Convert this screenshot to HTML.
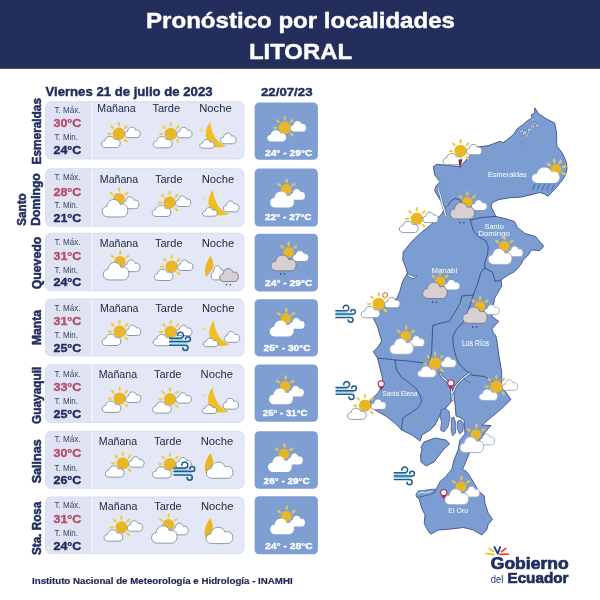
<!DOCTYPE html>
<html lang="es"><head><meta charset="utf-8"><title>Pronóstico por localidades - LITORAL</title>
<style>html,body{margin:0;padding:0;background:#fff}svg{display:block}text{font-family:"Liberation Sans",sans-serif}</style></head>
<body>
<svg width="600" height="600" viewBox="0 0 600 600">
<rect x="0" y="0" width="600" height="600" fill="#ffffff"/>
<rect x="0" y="0" width="600" height="68.8" fill="#232e5d"/>
<text x="146.0" y="28.2" font-size="21.23" font-weight="bold" fill="#ffffff" stroke="#ffffff" stroke-width="0.42" stroke-linejoin="round" textLength="309.0" lengthAdjust="spacingAndGlyphs" >Pronóstico por localidades</text>
<text x="249.0" y="59.0" font-size="22.35" font-weight="bold" fill="#ffffff" stroke="#ffffff" stroke-width="0.45" stroke-linejoin="round" textLength="103.0" lengthAdjust="spacingAndGlyphs" >LITORAL</text>
<text x="45.5" y="95.8" font-size="12.01" font-weight="bold" fill="#222e5e" stroke="#222e5e" stroke-width="0.42" stroke-linejoin="round" textLength="167.0" lengthAdjust="spacingAndGlyphs" >Viernes 21 de julio de 2023</text>
<text x="261.0" y="95.8" font-size="11.73" font-weight="bold" fill="#222e5e" stroke="#222e5e" stroke-width="0.41" stroke-linejoin="round" textLength="51.5" lengthAdjust="spacingAndGlyphs" >22/07/23</text>
<rect x="45.5" y="101.7" width="198.5" height="57.3" rx="5.5" fill="#e4e8f6" stroke="#d3d7e5" stroke-width="0.8"/>
<path d="M91.3,102.10000000000001 H51 a5.5,5.5 0 0 0 -5.1,5.1 V153.5 a5.5,5.5 0 0 0 5.1,5.1 H91.3Z" fill="#dfe3f3"/>
<rect x="91.3" y="102.10000000000001" width="1.1" height="56.5" fill="#f6f7fc"/>
<rect x="254.6" y="102.6" width="63.3" height="57.2" rx="4.5" fill="#7f9fd3"/>
<text transform="translate(40.5,164.4) rotate(-90)" x="0" y="0" font-size="12.57" font-weight="bold" fill="#222e5e" stroke="#222e5e" stroke-width="0.50" stroke-linejoin="round" textLength="66.4" lengthAdjust="spacingAndGlyphs">Esmeraldas</text>
<text x="54.5" y="113.0" font-size="8.38" font-weight="normal" fill="#3b4565" textLength="26.0" lengthAdjust="spacingAndGlyphs" >T. Máx.</text>
<text x="53.5" y="126.6" font-size="11.73" font-weight="bold" fill="#b4506c" stroke="#b4506c" stroke-width="0.41" stroke-linejoin="round" textLength="27.8" lengthAdjust="spacingAndGlyphs" >30°C</text>
<text x="54.5" y="140.3" font-size="8.38" font-weight="normal" fill="#3b4565" textLength="23.5" lengthAdjust="spacingAndGlyphs" >T. Min.</text>
<text x="53.5" y="154.0" font-size="11.73" font-weight="bold" fill="#232c5e" stroke="#232c5e" stroke-width="0.41" stroke-linejoin="round" textLength="27.8" lengthAdjust="spacingAndGlyphs" >24°C</text>
<text x="97.3" y="112.0" font-size="10.20" font-weight="normal" fill="#242a47" textLength="38.4" lengthAdjust="spacingAndGlyphs" >Mañana</text>
<text x="152.5" y="112.0" font-size="10.20" font-weight="normal" fill="#242a47" textLength="27.5" lengthAdjust="spacingAndGlyphs" >Tarde</text>
<text x="199.2" y="112.0" font-size="10.20" font-weight="normal" fill="#242a47" textLength="32.5" lengthAdjust="spacingAndGlyphs" >Noche</text>
<g stroke="#f1cb45" stroke-width="2.2" stroke-linecap="round"><line x1="118.90" y1="125.30" x2="118.90" y2="123.10"/><line x1="124.91" y1="127.79" x2="126.47" y2="126.23"/><line x1="127.40" y1="133.80" x2="129.60" y2="133.80"/><line x1="124.91" y1="139.81" x2="126.47" y2="141.37"/><line x1="118.90" y1="142.30" x2="118.90" y2="144.50"/><line x1="112.89" y1="139.81" x2="111.33" y2="141.37"/><line x1="110.40" y1="133.80" x2="108.20" y2="133.80"/><line x1="112.89" y1="127.79" x2="111.33" y2="126.23"/></g><circle cx="118.90" cy="133.80" r="6.2" fill="#e9b726"/><path transform="translate(124.80,127.10) scale(0.770,0.875)" d="M4.5,12 C1.6,12 0,10.2 0,8.2 C0,6.2 1.6,4.7 3.6,4.9 C4,2.1 6.2,0 9,0 C11.5,0 13.5,1.5 14.2,3.6 C14.8,3.3 15.4,3.2 16,3.2 C18.3,3.2 20,5 20,7.5 C20,10.1 18.2,12 15.8,12 Z" fill="#fff" stroke="#7d8fa6" stroke-width="0.9" vector-effect="non-scaling-stroke"/><path transform="translate(101.40,136.30) scale(0.940,0.942)" d="M4.5,12 C1.6,12 0,10.2 0,8.2 C0,6.2 1.6,4.7 3.6,4.9 C4,2.1 6.2,0 9,0 C11.5,0 13.5,1.5 14.2,3.6 C14.8,3.3 15.4,3.2 16,3.2 C18.3,3.2 20,5 20,7.5 C20,10.1 18.2,12 15.8,12 Z" fill="#fff" stroke="#7d8fa6" stroke-width="0.9" vector-effect="non-scaling-stroke"/>
<g stroke="#f1cb45" stroke-width="2.2" stroke-linecap="round"><line x1="170.80" y1="125.50" x2="170.80" y2="123.30"/><line x1="176.81" y1="127.99" x2="178.37" y2="126.43"/><line x1="179.30" y1="134.00" x2="181.50" y2="134.00"/><line x1="176.81" y1="140.01" x2="178.37" y2="141.57"/><line x1="170.80" y1="142.50" x2="170.80" y2="144.70"/><line x1="164.79" y1="140.01" x2="163.23" y2="141.57"/><line x1="162.30" y1="134.00" x2="160.10" y2="134.00"/><line x1="164.79" y1="127.99" x2="163.23" y2="126.43"/></g><circle cx="170.80" cy="134.00" r="6.2" fill="#e9b726"/><path transform="translate(176.70,127.30) scale(0.770,0.875)" d="M4.5,12 C1.6,12 0,10.2 0,8.2 C0,6.2 1.6,4.7 3.6,4.9 C4,2.1 6.2,0 9,0 C11.5,0 13.5,1.5 14.2,3.6 C14.8,3.3 15.4,3.2 16,3.2 C18.3,3.2 20,5 20,7.5 C20,10.1 18.2,12 15.8,12 Z" fill="#fff" stroke="#7d8fa6" stroke-width="0.9" vector-effect="non-scaling-stroke"/><path transform="translate(153.30,136.50) scale(0.940,0.942)" d="M4.5,12 C1.6,12 0,10.2 0,8.2 C0,6.2 1.6,4.7 3.6,4.9 C4,2.1 6.2,0 9,0 C11.5,0 13.5,1.5 14.2,3.6 C14.8,3.3 15.4,3.2 16,3.2 C18.3,3.2 20,5 20,7.5 C20,10.1 18.2,12 15.8,12 Z" fill="#fff" stroke="#7d8fa6" stroke-width="0.9" vector-effect="non-scaling-stroke"/>
<path transform="translate(199.80,120.00)" d="M10.4,2 C2,12 6,27 17,27.5 C21,27.6 24.5,27 26.7,25.8 C18,24 11.5,14 10.4,2Z" fill="#f0bf25"/><circle cx="201.10" cy="130.00" r="1.5" fill="#e3e283"/><path transform="translate(220.60,133.00) scale(0.775,0.900)" d="M4.5,12 C1.6,12 0,10.2 0,8.2 C0,6.2 1.6,4.7 3.6,4.9 C4,2.1 6.2,0 9,0 C11.5,0 13.5,1.5 14.2,3.6 C14.8,3.3 15.4,3.2 16,3.2 C18.3,3.2 20,5 20,7.5 C20,10.1 18.2,12 15.8,12 Z" fill="#fff" stroke="#7d8fa6" stroke-width="0.9" vector-effect="non-scaling-stroke"/><path transform="translate(199.80,139.60) scale(0.730,0.717)" d="M4.5,12 C1.6,12 0,10.2 0,8.2 C0,6.2 1.6,4.7 3.6,4.9 C4,2.1 6.2,0 9,0 C11.5,0 13.5,1.5 14.2,3.6 C14.8,3.3 15.4,3.2 16,3.2 C18.3,3.2 20,5 20,7.5 C20,10.1 18.2,12 15.8,12 Z" fill="#fff" stroke="#7d8fa6" stroke-width="0.9" vector-effect="non-scaling-stroke"/>
<g stroke="#dcc35a" stroke-width="2.2" stroke-linecap="round"><line x1="284.80" y1="119.30" x2="284.80" y2="117.10"/><line x1="290.81" y1="121.79" x2="292.37" y2="120.23"/><line x1="293.30" y1="127.80" x2="295.50" y2="127.80"/><line x1="290.81" y1="133.81" x2="292.37" y2="135.37"/><line x1="284.80" y1="136.30" x2="284.80" y2="138.50"/><line x1="278.79" y1="133.81" x2="277.23" y2="135.37"/><line x1="276.30" y1="127.80" x2="274.10" y2="127.80"/><line x1="278.79" y1="121.79" x2="277.23" y2="120.23"/></g><circle cx="284.80" cy="127.80" r="6.2" fill="#e9b726"/><path transform="translate(290.70,121.10) scale(0.770,0.875)" d="M4.5,12 C1.6,12 0,10.2 0,8.2 C0,6.2 1.6,4.7 3.6,4.9 C4,2.1 6.2,0 9,0 C11.5,0 13.5,1.5 14.2,3.6 C14.8,3.3 15.4,3.2 16,3.2 C18.3,3.2 20,5 20,7.5 C20,10.1 18.2,12 15.8,12 Z" fill="#fff" /><path transform="translate(267.30,130.30) scale(0.940,0.942)" d="M4.5,12 C1.6,12 0,10.2 0,8.2 C0,6.2 1.6,4.7 3.6,4.9 C4,2.1 6.2,0 9,0 C11.5,0 13.5,1.5 14.2,3.6 C14.8,3.3 15.4,3.2 16,3.2 C18.3,3.2 20,5 20,7.5 C20,10.1 18.2,12 15.8,12 Z" fill="#fff" />
<text x="265.0" y="156.3" font-size="9.50" font-weight="bold" fill="#ffffff" stroke="#ffffff" stroke-width="0.33" stroke-linejoin="round" textLength="47.4" lengthAdjust="spacingAndGlyphs" >24° - 29°C</text>
<rect x="45.5" y="168.7" width="198.5" height="57.6" rx="5.5" fill="#e4e8f6" stroke="#d3d7e5" stroke-width="0.8"/>
<path d="M91.3,169.1 H51 a5.5,5.5 0 0 0 -5.1,5.1 V220.79999999999998 a5.5,5.5 0 0 0 5.1,5.1 H91.3Z" fill="#dfe3f3"/>
<rect x="91.3" y="169.1" width="1.1" height="56.800000000000004" fill="#f6f7fc"/>
<rect x="254.6" y="168.6" width="63.3" height="58" rx="4.5" fill="#7f9fd3"/>
<text transform="translate(26.0,225.7) rotate(-90)" x="0" y="0" font-size="12.57" font-weight="bold" fill="#222e5e" stroke="#222e5e" stroke-width="0.50" stroke-linejoin="round" textLength="32.4" lengthAdjust="spacingAndGlyphs">Santo</text>
<text transform="translate(40.3,225.7) rotate(-90)" x="0" y="0" font-size="12.57" font-weight="bold" fill="#222e5e" stroke="#222e5e" stroke-width="0.50" stroke-linejoin="round" textLength="52.4" lengthAdjust="spacingAndGlyphs">Domingo</text>
<text x="54.5" y="179.8" font-size="8.38" font-weight="normal" fill="#3b4565" textLength="26.0" lengthAdjust="spacingAndGlyphs" >T. Máx.</text>
<text x="53.5" y="196.0" font-size="11.73" font-weight="bold" fill="#b4506c" stroke="#b4506c" stroke-width="0.41" stroke-linejoin="round" textLength="27.8" lengthAdjust="spacingAndGlyphs" >28°C</text>
<text x="54.5" y="208.3" font-size="8.38" font-weight="normal" fill="#3b4565" textLength="23.5" lengthAdjust="spacingAndGlyphs" >T. Min.</text>
<text x="53.5" y="222.0" font-size="11.73" font-weight="bold" fill="#232c5e" stroke="#232c5e" stroke-width="0.41" stroke-linejoin="round" textLength="27.8" lengthAdjust="spacingAndGlyphs" >21°C</text>
<text x="99.8" y="183.0" font-size="10.20" font-weight="normal" fill="#242a47" textLength="38.4" lengthAdjust="spacingAndGlyphs" >Mañana</text>
<text x="155.0" y="183.0" font-size="10.20" font-weight="normal" fill="#242a47" textLength="27.5" lengthAdjust="spacingAndGlyphs" >Tarde</text>
<text x="201.7" y="183.0" font-size="10.20" font-weight="normal" fill="#242a47" textLength="32.5" lengthAdjust="spacingAndGlyphs" >Noche</text>
<g stroke="#f1cb45" stroke-width="2.1" stroke-linecap="round"><line x1="112.53" y1="194.17" x2="110.56" y2="192.79"/><line x1="119.28" y1="190.80" x2="119.36" y2="188.41"/><line x1="125.47" y1="194.17" x2="127.44" y2="192.79"/></g><circle cx="119.00" cy="198.70" r="5.8" fill="#e9b726"/><path transform="translate(122.75,196.95) scale(0.810,0.975)" d="M4.5,12 C1.6,12 0,10.2 0,8.2 C0,6.2 1.6,4.7 3.6,4.9 C4,2.1 6.2,0 9,0 C11.5,0 13.5,1.5 14.2,3.6 C14.8,3.3 15.4,3.2 16,3.2 C18.3,3.2 20,5 20,7.5 C20,10.1 18.2,12 15.8,12 Z" fill="#fff" stroke="#7d8fa6" stroke-width="0.9" vector-effect="non-scaling-stroke"/><path transform="translate(102.25,199.45) scale(1.275,1.458)" d="M4.5,12 C1.6,12 0,10.2 0,8.2 C0,6.2 1.6,4.7 3.6,4.9 C4,2.1 6.2,0 9,0 C11.5,0 13.5,1.5 14.2,3.6 C14.8,3.3 15.4,3.2 16,3.2 C18.3,3.2 20,5 20,7.5 C20,10.1 18.2,12 15.8,12 Z" fill="#fff" stroke="#7d8fa6" stroke-width="0.9" vector-effect="non-scaling-stroke"/>
<g stroke="#f1cb45" stroke-width="2.2" stroke-linecap="round"><line x1="169.60" y1="194.20" x2="169.60" y2="192.00"/><line x1="175.61" y1="196.69" x2="177.17" y2="195.13"/><line x1="178.10" y1="202.70" x2="180.30" y2="202.70"/><line x1="175.61" y1="208.71" x2="177.17" y2="210.27"/><line x1="169.60" y1="211.20" x2="169.60" y2="213.40"/><line x1="163.59" y1="208.71" x2="162.03" y2="210.27"/><line x1="161.10" y1="202.70" x2="158.90" y2="202.70"/><line x1="163.59" y1="196.69" x2="162.03" y2="195.13"/></g><circle cx="169.60" cy="202.70" r="6.2" fill="#e9b726"/><path transform="translate(175.50,196.00) scale(0.770,0.875)" d="M4.5,12 C1.6,12 0,10.2 0,8.2 C0,6.2 1.6,4.7 3.6,4.9 C4,2.1 6.2,0 9,0 C11.5,0 13.5,1.5 14.2,3.6 C14.8,3.3 15.4,3.2 16,3.2 C18.3,3.2 20,5 20,7.5 C20,10.1 18.2,12 15.8,12 Z" fill="#fff" stroke="#7d8fa6" stroke-width="0.9" vector-effect="non-scaling-stroke"/><path transform="translate(152.10,205.20) scale(0.940,0.942)" d="M4.5,12 C1.6,12 0,10.2 0,8.2 C0,6.2 1.6,4.7 3.6,4.9 C4,2.1 6.2,0 9,0 C11.5,0 13.5,1.5 14.2,3.6 C14.8,3.3 15.4,3.2 16,3.2 C18.3,3.2 20,5 20,7.5 C20,10.1 18.2,12 15.8,12 Z" fill="#fff" stroke="#7d8fa6" stroke-width="0.9" vector-effect="non-scaling-stroke"/>
<path transform="translate(202.60,188.00)" d="M10.4,2 C2,12 6,27 17,27.5 C21,27.6 24.5,27 26.7,25.8 C18,24 11.5,14 10.4,2Z" fill="#f0bf25"/><circle cx="203.90" cy="198.00" r="1.5" fill="#e3e283"/><path transform="translate(223.40,201.00) scale(0.775,0.900)" d="M4.5,12 C1.6,12 0,10.2 0,8.2 C0,6.2 1.6,4.7 3.6,4.9 C4,2.1 6.2,0 9,0 C11.5,0 13.5,1.5 14.2,3.6 C14.8,3.3 15.4,3.2 16,3.2 C18.3,3.2 20,5 20,7.5 C20,10.1 18.2,12 15.8,12 Z" fill="#fff" stroke="#7d8fa6" stroke-width="0.9" vector-effect="non-scaling-stroke"/><path transform="translate(202.60,207.60) scale(0.730,0.717)" d="M4.5,12 C1.6,12 0,10.2 0,8.2 C0,6.2 1.6,4.7 3.6,4.9 C4,2.1 6.2,0 9,0 C11.5,0 13.5,1.5 14.2,3.6 C14.8,3.3 15.4,3.2 16,3.2 C18.3,3.2 20,5 20,7.5 C20,10.1 18.2,12 15.8,12 Z" fill="#fff" stroke="#7d8fa6" stroke-width="0.9" vector-effect="non-scaling-stroke"/>
<g stroke="#dcc35a" stroke-width="2.3" stroke-linecap="round"><line x1="280.09" y1="185.37" x2="278.16" y2="184.12"/><line x1="286.69" y1="182.01" x2="286.81" y2="179.71"/><line x1="292.51" y1="185.37" x2="294.44" y2="184.12"/></g><circle cx="286.30" cy="189.40" r="5.3" fill="#e9b726"/><path transform="translate(290.00,189.00) scale(0.750,0.900)" d="M4.5,12 C1.6,12 0,10.2 0,8.2 C0,6.2 1.6,4.7 3.6,4.9 C4,2.1 6.2,0 9,0 C11.5,0 13.5,1.5 14.2,3.6 C14.8,3.3 15.4,3.2 16,3.2 C18.3,3.2 20,5 20,7.5 C20,10.1 18.2,12 15.8,12 Z" fill="#fff" /><path transform="translate(270.20,191.60) scale(1.190,1.325)" d="M4.5,12 C1.6,12 0,10.2 0,8.2 C0,6.2 1.6,4.7 3.6,4.9 C4,2.1 6.2,0 9,0 C11.5,0 13.5,1.5 14.2,3.6 C14.8,3.3 15.4,3.2 16,3.2 C18.3,3.2 20,5 20,7.5 C20,10.1 18.2,12 15.8,12 Z" fill="#fff" />
<text x="265.0" y="220.3" font-size="9.50" font-weight="bold" fill="#ffffff" stroke="#ffffff" stroke-width="0.33" stroke-linejoin="round" textLength="46.6" lengthAdjust="spacingAndGlyphs" >22° - 27°C</text>
<rect x="45.5" y="233.2" width="198.5" height="57.5" rx="5.5" fill="#e4e8f6" stroke="#d3d7e5" stroke-width="0.8"/>
<path d="M91.3,233.6 H51 a5.5,5.5 0 0 0 -5.1,5.1 V285.2 a5.5,5.5 0 0 0 5.1,5.1 H91.3Z" fill="#dfe3f3"/>
<rect x="91.3" y="233.6" width="1.1" height="56.7" fill="#f6f7fc"/>
<rect x="254.6" y="233.8" width="63.3" height="57.6" rx="4.5" fill="#7f9fd3"/>
<text transform="translate(40.5,289.3) rotate(-90)" x="0" y="0" font-size="12.57" font-weight="bold" fill="#222e5e" stroke="#222e5e" stroke-width="0.50" stroke-linejoin="round" textLength="52.6" lengthAdjust="spacingAndGlyphs">Quevedo</text>
<text x="54.5" y="245.0" font-size="8.38" font-weight="normal" fill="#3b4565" textLength="26.0" lengthAdjust="spacingAndGlyphs" >T. Máx.</text>
<text x="53.5" y="259.6" font-size="11.73" font-weight="bold" fill="#b4506c" stroke="#b4506c" stroke-width="0.41" stroke-linejoin="round" textLength="27.8" lengthAdjust="spacingAndGlyphs" >31°C</text>
<text x="54.5" y="272.7" font-size="8.38" font-weight="normal" fill="#3b4565" textLength="23.5" lengthAdjust="spacingAndGlyphs" >T. Min.</text>
<text x="53.5" y="286.3" font-size="11.73" font-weight="bold" fill="#232c5e" stroke="#232c5e" stroke-width="0.41" stroke-linejoin="round" textLength="27.8" lengthAdjust="spacingAndGlyphs" >24°C</text>
<text x="99.8" y="246.5" font-size="10.20" font-weight="normal" fill="#242a47" textLength="38.4" lengthAdjust="spacingAndGlyphs" >Mañana</text>
<text x="155.0" y="246.5" font-size="10.20" font-weight="normal" fill="#242a47" textLength="27.5" lengthAdjust="spacingAndGlyphs" >Tarde</text>
<text x="201.7" y="246.5" font-size="10.20" font-weight="normal" fill="#242a47" textLength="32.5" lengthAdjust="spacingAndGlyphs" >Noche</text>
<g stroke="#f1cb45" stroke-width="2.1" stroke-linecap="round"><line x1="113.53" y1="257.17" x2="111.56" y2="255.79"/><line x1="120.28" y1="253.80" x2="120.36" y2="251.41"/><line x1="126.47" y1="257.17" x2="128.44" y2="255.79"/></g><circle cx="120.00" cy="261.70" r="5.8" fill="#e9b726"/><path transform="translate(123.75,259.95) scale(0.810,0.975)" d="M4.5,12 C1.6,12 0,10.2 0,8.2 C0,6.2 1.6,4.7 3.6,4.9 C4,2.1 6.2,0 9,0 C11.5,0 13.5,1.5 14.2,3.6 C14.8,3.3 15.4,3.2 16,3.2 C18.3,3.2 20,5 20,7.5 C20,10.1 18.2,12 15.8,12 Z" fill="#fff" stroke="#7d8fa6" stroke-width="0.9" vector-effect="non-scaling-stroke"/><path transform="translate(103.25,262.45) scale(1.275,1.458)" d="M4.5,12 C1.6,12 0,10.2 0,8.2 C0,6.2 1.6,4.7 3.6,4.9 C4,2.1 6.2,0 9,0 C11.5,0 13.5,1.5 14.2,3.6 C14.8,3.3 15.4,3.2 16,3.2 C18.3,3.2 20,5 20,7.5 C20,10.1 18.2,12 15.8,12 Z" fill="#fff" stroke="#7d8fa6" stroke-width="0.9" vector-effect="non-scaling-stroke"/>
<g stroke="#f1cb45" stroke-width="2.2" stroke-linecap="round"><line x1="171.70" y1="258.20" x2="171.70" y2="256.00"/><line x1="177.71" y1="260.69" x2="179.27" y2="259.13"/><line x1="180.20" y1="266.70" x2="182.40" y2="266.70"/><line x1="177.71" y1="272.71" x2="179.27" y2="274.27"/><line x1="171.70" y1="275.20" x2="171.70" y2="277.40"/><line x1="165.69" y1="272.71" x2="164.13" y2="274.27"/><line x1="163.20" y1="266.70" x2="161.00" y2="266.70"/><line x1="165.69" y1="260.69" x2="164.13" y2="259.13"/></g><circle cx="171.70" cy="266.70" r="6.2" fill="#e9b726"/><path transform="translate(177.60,260.00) scale(0.770,0.875)" d="M4.5,12 C1.6,12 0,10.2 0,8.2 C0,6.2 1.6,4.7 3.6,4.9 C4,2.1 6.2,0 9,0 C11.5,0 13.5,1.5 14.2,3.6 C14.8,3.3 15.4,3.2 16,3.2 C18.3,3.2 20,5 20,7.5 C20,10.1 18.2,12 15.8,12 Z" fill="#fff" stroke="#7d8fa6" stroke-width="0.9" vector-effect="non-scaling-stroke"/><path transform="translate(154.20,269.20) scale(0.940,0.942)" d="M4.5,12 C1.6,12 0,10.2 0,8.2 C0,6.2 1.6,4.7 3.6,4.9 C4,2.1 6.2,0 9,0 C11.5,0 13.5,1.5 14.2,3.6 C14.8,3.3 15.4,3.2 16,3.2 C18.3,3.2 20,5 20,7.5 C20,10.1 18.2,12 15.8,12 Z" fill="#fff" stroke="#7d8fa6" stroke-width="0.9" vector-effect="non-scaling-stroke"/>
<path transform="translate(204.80,256.00)" d="M5.8,0 C0,8 -1,15 1.5,21 L8.4,12 C9,7 7.5,3 5.8,0Z" fill="#e9b726"/><path transform="translate(211.30,265.80) scale(0.675,1.175)" d="M4.5,12 C1.6,12 0,10.2 0,8.2 C0,6.2 1.6,4.7 3.6,4.9 C4,2.1 6.2,0 9,0 C11.5,0 13.5,1.5 14.2,3.6 C14.8,3.3 15.4,3.2 16,3.2 C18.3,3.2 20,5 20,7.5 C20,10.1 18.2,12 15.8,12 Z" fill="#fff" stroke="#7d8fa6" stroke-width="0.9" vector-effect="non-scaling-stroke"/><path transform="translate(219.60,268.60) scale(0.940,1.083)" d="M4.5,12 C1.6,12 0,10.2 0,8.2 C0,6.2 1.6,4.7 3.6,4.9 C4,2.1 6.2,0 9,0 C11.5,0 13.5,1.5 14.2,3.6 C14.8,3.3 15.4,3.2 16,3.2 C18.3,3.2 20,5 20,7.5 C20,10.1 18.2,12 15.8,12 Z" fill="#d8cfd2" stroke="#737987" stroke-width="0.9" vector-effect="non-scaling-stroke"/><circle cx="226.50" cy="284.80" r="0.8" fill="#2a3a6a"/><circle cx="230.30" cy="284.80" r="0.8" fill="#2a3a6a"/>
<g stroke="#dcc35a" stroke-width="2.2" stroke-linecap="round"><line x1="283.03" y1="247.67" x2="281.14" y2="246.19"/><line x1="288.70" y1="244.90" x2="288.70" y2="242.50"/><line x1="294.37" y1="247.67" x2="296.26" y2="246.19"/></g><circle cx="288.70" cy="252.10" r="5.2" fill="#e9b726"/><path transform="translate(292.90,251.00) scale(0.770,0.825)" d="M4.5,12 C1.6,12 0,10.2 0,8.2 C0,6.2 1.6,4.7 3.6,4.9 C4,2.1 6.2,0 9,0 C11.5,0 13.5,1.5 14.2,3.6 C14.8,3.3 15.4,3.2 16,3.2 C18.3,3.2 20,5 20,7.5 C20,10.1 18.2,12 15.8,12 Z" fill="#fff" /><path transform="translate(270.90,255.00) scale(1.265,1.317)" d="M4.5,12 C1.6,12 0,10.2 0,8.2 C0,6.2 1.6,4.7 3.6,4.9 C4,2.1 6.2,0 9,0 C11.5,0 13.5,1.5 14.2,3.6 C14.8,3.3 15.4,3.2 16,3.2 C18.3,3.2 20,5 20,7.5 C20,10.1 18.2,12 15.8,12 Z" fill="#d8cfd2" stroke="#737987" stroke-width="0.9" vector-effect="non-scaling-stroke"/><circle cx="280.80" cy="274.10" r="0.8" fill="#2a3a6a"/><circle cx="284.60" cy="274.10" r="0.8" fill="#2a3a6a"/>
<text x="265.0" y="286.4" font-size="9.50" font-weight="bold" fill="#ffffff" stroke="#ffffff" stroke-width="0.33" stroke-linejoin="round" textLength="47.5" lengthAdjust="spacingAndGlyphs" >24° - 29°C</text>
<rect x="45.5" y="299" width="198.5" height="57" rx="5.5" fill="#e4e8f6" stroke="#d3d7e5" stroke-width="0.8"/>
<path d="M91.3,299.4 H51 a5.5,5.5 0 0 0 -5.1,5.1 V350.5 a5.5,5.5 0 0 0 5.1,5.1 H91.3Z" fill="#dfe3f3"/>
<rect x="91.3" y="299.4" width="1.1" height="56.2" fill="#f6f7fc"/>
<rect x="254.6" y="299.2" width="63.3" height="57.2" rx="4.5" fill="#7f9fd3"/>
<text transform="translate(40.5,345.0) rotate(-90)" x="0" y="0" font-size="12.57" font-weight="bold" fill="#222e5e" stroke="#222e5e" stroke-width="0.50" stroke-linejoin="round" textLength="35.0" lengthAdjust="spacingAndGlyphs">Manta</text>
<text x="54.5" y="310.7" font-size="8.38" font-weight="normal" fill="#3b4565" textLength="26.0" lengthAdjust="spacingAndGlyphs" >T. Máx.</text>
<text x="53.5" y="324.6" font-size="11.73" font-weight="bold" fill="#b4506c" stroke="#b4506c" stroke-width="0.41" stroke-linejoin="round" textLength="27.8" lengthAdjust="spacingAndGlyphs" >31°C</text>
<text x="54.5" y="338.3" font-size="8.38" font-weight="normal" fill="#3b4565" textLength="23.5" lengthAdjust="spacingAndGlyphs" >T. Min.</text>
<text x="53.5" y="352.0" font-size="11.73" font-weight="bold" fill="#232c5e" stroke="#232c5e" stroke-width="0.41" stroke-linejoin="round" textLength="27.8" lengthAdjust="spacingAndGlyphs" >25°C</text>
<text x="100.1" y="311.5" font-size="10.20" font-weight="normal" fill="#242a47" textLength="38.4" lengthAdjust="spacingAndGlyphs" >Mañana</text>
<text x="155.3" y="311.5" font-size="10.20" font-weight="normal" fill="#242a47" textLength="27.5" lengthAdjust="spacingAndGlyphs" >Tarde</text>
<text x="202.0" y="311.5" font-size="10.20" font-weight="normal" fill="#242a47" textLength="32.5" lengthAdjust="spacingAndGlyphs" >Noche</text>
<g stroke="#f1cb45" stroke-width="2.2" stroke-linecap="round"><line x1="119.60" y1="323.20" x2="119.60" y2="321.00"/><line x1="125.61" y1="325.69" x2="127.17" y2="324.13"/><line x1="128.10" y1="331.70" x2="130.30" y2="331.70"/><line x1="125.61" y1="337.71" x2="127.17" y2="339.27"/><line x1="119.60" y1="340.20" x2="119.60" y2="342.40"/><line x1="113.59" y1="337.71" x2="112.03" y2="339.27"/><line x1="111.10" y1="331.70" x2="108.90" y2="331.70"/><line x1="113.59" y1="325.69" x2="112.03" y2="324.13"/></g><circle cx="119.60" cy="331.70" r="6.2" fill="#e9b726"/><path transform="translate(125.50,325.00) scale(0.770,0.875)" d="M4.5,12 C1.6,12 0,10.2 0,8.2 C0,6.2 1.6,4.7 3.6,4.9 C4,2.1 6.2,0 9,0 C11.5,0 13.5,1.5 14.2,3.6 C14.8,3.3 15.4,3.2 16,3.2 C18.3,3.2 20,5 20,7.5 C20,10.1 18.2,12 15.8,12 Z" fill="#fff" stroke="#7d8fa6" stroke-width="0.9" vector-effect="non-scaling-stroke"/><path transform="translate(102.10,334.20) scale(0.940,0.942)" d="M4.5,12 C1.6,12 0,10.2 0,8.2 C0,6.2 1.6,4.7 3.6,4.9 C4,2.1 6.2,0 9,0 C11.5,0 13.5,1.5 14.2,3.6 C14.8,3.3 15.4,3.2 16,3.2 C18.3,3.2 20,5 20,7.5 C20,10.1 18.2,12 15.8,12 Z" fill="#fff" stroke="#7d8fa6" stroke-width="0.9" vector-effect="non-scaling-stroke"/>
<g stroke="#f1cb45" stroke-width="2.2" stroke-linecap="round"><line x1="170.70" y1="323.40" x2="170.70" y2="321.20"/><line x1="176.71" y1="325.89" x2="178.27" y2="324.33"/><line x1="179.20" y1="331.90" x2="181.40" y2="331.90"/><line x1="176.71" y1="337.91" x2="178.27" y2="339.47"/><line x1="170.70" y1="340.40" x2="170.70" y2="342.60"/><line x1="164.69" y1="337.91" x2="163.13" y2="339.47"/><line x1="162.20" y1="331.90" x2="160.00" y2="331.90"/><line x1="164.69" y1="325.89" x2="163.13" y2="324.33"/></g><circle cx="170.70" cy="331.90" r="6.2" fill="#e9b726"/><path transform="translate(176.60,325.20) scale(0.770,0.875)" d="M4.5,12 C1.6,12 0,10.2 0,8.2 C0,6.2 1.6,4.7 3.6,4.9 C4,2.1 6.2,0 9,0 C11.5,0 13.5,1.5 14.2,3.6 C14.8,3.3 15.4,3.2 16,3.2 C18.3,3.2 20,5 20,7.5 C20,10.1 18.2,12 15.8,12 Z" fill="#fff" stroke="#7d8fa6" stroke-width="0.9" vector-effect="non-scaling-stroke"/><path transform="translate(153.20,334.40) scale(0.940,0.942)" d="M4.5,12 C1.6,12 0,10.2 0,8.2 C0,6.2 1.6,4.7 3.6,4.9 C4,2.1 6.2,0 9,0 C11.5,0 13.5,1.5 14.2,3.6 C14.8,3.3 15.4,3.2 16,3.2 C18.3,3.2 20,5 20,7.5 C20,10.1 18.2,12 15.8,12 Z" fill="#fff" stroke="#7d8fa6" stroke-width="0.9" vector-effect="non-scaling-stroke"/><g transform="translate(169.00,332.20) scale(1.0)" fill="none" stroke-linecap="round"><path d="M0.7,7.3 H13 M0.7,10.6 H18.5" stroke="#8fd0ef" stroke-width="1.4"/><path d="M0.7,6 H11.5 A3,3 0 1 0 8.5,3.2" stroke="#1d5c8c" stroke-width="1.55"/><path d="M0.7,9.3 H19 A2.4,2.4 0 1 0 16.6,6.9" stroke="#1d5c8c" stroke-width="1.55"/><path d="M0.7,13 H16.4 A2.6,2.6 0 1 1 13.8,15.6" stroke="#1d5c8c" stroke-width="1.55"/></g>
<path transform="translate(203.40,318.50)" d="M10.4,2 C2,12 6,27 17,27.5 C21,27.6 24.5,27 26.7,25.8 C18,24 11.5,14 10.4,2Z" fill="#f0bf25"/><circle cx="204.70" cy="328.50" r="1.5" fill="#e3e283"/><path transform="translate(224.20,331.50) scale(0.775,0.900)" d="M4.5,12 C1.6,12 0,10.2 0,8.2 C0,6.2 1.6,4.7 3.6,4.9 C4,2.1 6.2,0 9,0 C11.5,0 13.5,1.5 14.2,3.6 C14.8,3.3 15.4,3.2 16,3.2 C18.3,3.2 20,5 20,7.5 C20,10.1 18.2,12 15.8,12 Z" fill="#fff" stroke="#7d8fa6" stroke-width="0.9" vector-effect="non-scaling-stroke"/><path transform="translate(203.40,338.10) scale(0.730,0.717)" d="M4.5,12 C1.6,12 0,10.2 0,8.2 C0,6.2 1.6,4.7 3.6,4.9 C4,2.1 6.2,0 9,0 C11.5,0 13.5,1.5 14.2,3.6 C14.8,3.3 15.4,3.2 16,3.2 C18.3,3.2 20,5 20,7.5 C20,10.1 18.2,12 15.8,12 Z" fill="#fff" stroke="#7d8fa6" stroke-width="0.9" vector-effect="non-scaling-stroke"/>
<g stroke="#dcc35a" stroke-width="2.3" stroke-linecap="round"><line x1="279.69" y1="314.37" x2="277.76" y2="313.12"/><line x1="286.29" y1="311.01" x2="286.41" y2="308.71"/><line x1="292.11" y1="314.37" x2="294.04" y2="313.12"/></g><circle cx="285.90" cy="318.40" r="5.3" fill="#e9b726"/><path transform="translate(289.60,318.00) scale(0.750,0.900)" d="M4.5,12 C1.6,12 0,10.2 0,8.2 C0,6.2 1.6,4.7 3.6,4.9 C4,2.1 6.2,0 9,0 C11.5,0 13.5,1.5 14.2,3.6 C14.8,3.3 15.4,3.2 16,3.2 C18.3,3.2 20,5 20,7.5 C20,10.1 18.2,12 15.8,12 Z" fill="#fff" /><path transform="translate(269.80,320.60) scale(1.190,1.325)" d="M4.5,12 C1.6,12 0,10.2 0,8.2 C0,6.2 1.6,4.7 3.6,4.9 C4,2.1 6.2,0 9,0 C11.5,0 13.5,1.5 14.2,3.6 C14.8,3.3 15.4,3.2 16,3.2 C18.3,3.2 20,5 20,7.5 C20,10.1 18.2,12 15.8,12 Z" fill="#fff" />
<text x="263.6" y="351.1" font-size="9.50" font-weight="bold" fill="#ffffff" stroke="#ffffff" stroke-width="0.33" stroke-linejoin="round" textLength="46.9" lengthAdjust="spacingAndGlyphs" >25° - 30°C</text>
<rect x="45.5" y="364.7" width="198.5" height="57.7" rx="5.5" fill="#e4e8f6" stroke="#d3d7e5" stroke-width="0.8"/>
<path d="M91.3,365.09999999999997 H51 a5.5,5.5 0 0 0 -5.1,5.1 V416.9 a5.5,5.5 0 0 0 5.1,5.1 H91.3Z" fill="#dfe3f3"/>
<rect x="91.3" y="365.09999999999997" width="1.1" height="56.900000000000006" fill="#f6f7fc"/>
<rect x="254.6" y="364.5" width="63.3" height="57.2" rx="4.5" fill="#7f9fd3"/>
<text transform="translate(40.5,424.0) rotate(-90)" x="0" y="0" font-size="12.57" font-weight="bold" fill="#222e5e" stroke="#222e5e" stroke-width="0.50" stroke-linejoin="round" textLength="57.3" lengthAdjust="spacingAndGlyphs">Guayaquil</text>
<text x="54.5" y="376.7" font-size="8.38" font-weight="normal" fill="#3b4565" textLength="26.0" lengthAdjust="spacingAndGlyphs" >T. Máx.</text>
<text x="53.5" y="391.0" font-size="11.73" font-weight="bold" fill="#b4506c" stroke="#b4506c" stroke-width="0.41" stroke-linejoin="round" textLength="27.8" lengthAdjust="spacingAndGlyphs" >33°C</text>
<text x="54.5" y="404.3" font-size="8.38" font-weight="normal" fill="#3b4565" textLength="23.5" lengthAdjust="spacingAndGlyphs" >T. Min.</text>
<text x="53.5" y="418.0" font-size="11.73" font-weight="bold" fill="#232c5e" stroke="#232c5e" stroke-width="0.41" stroke-linejoin="round" textLength="27.8" lengthAdjust="spacingAndGlyphs" >25°C</text>
<text x="98.7" y="378.4" font-size="10.20" font-weight="normal" fill="#242a47" textLength="38.4" lengthAdjust="spacingAndGlyphs" >Mañana</text>
<text x="153.9" y="378.4" font-size="10.20" font-weight="normal" fill="#242a47" textLength="27.5" lengthAdjust="spacingAndGlyphs" >Tarde</text>
<text x="200.6" y="378.4" font-size="10.20" font-weight="normal" fill="#242a47" textLength="32.5" lengthAdjust="spacingAndGlyphs" >Noche</text>
<g stroke="#f1cb45" stroke-width="2.2" stroke-linecap="round"><line x1="119.60" y1="390.10" x2="119.60" y2="387.90"/><line x1="125.61" y1="392.59" x2="127.17" y2="391.03"/><line x1="128.10" y1="398.60" x2="130.30" y2="398.60"/><line x1="125.61" y1="404.61" x2="127.17" y2="406.17"/><line x1="119.60" y1="407.10" x2="119.60" y2="409.30"/><line x1="113.59" y1="404.61" x2="112.03" y2="406.17"/><line x1="111.10" y1="398.60" x2="108.90" y2="398.60"/><line x1="113.59" y1="392.59" x2="112.03" y2="391.03"/></g><circle cx="119.60" cy="398.60" r="6.2" fill="#e9b726"/><path transform="translate(125.50,391.90) scale(0.770,0.875)" d="M4.5,12 C1.6,12 0,10.2 0,8.2 C0,6.2 1.6,4.7 3.6,4.9 C4,2.1 6.2,0 9,0 C11.5,0 13.5,1.5 14.2,3.6 C14.8,3.3 15.4,3.2 16,3.2 C18.3,3.2 20,5 20,7.5 C20,10.1 18.2,12 15.8,12 Z" fill="#fff" stroke="#7d8fa6" stroke-width="0.9" vector-effect="non-scaling-stroke"/><path transform="translate(102.10,401.10) scale(0.940,0.942)" d="M4.5,12 C1.6,12 0,10.2 0,8.2 C0,6.2 1.6,4.7 3.6,4.9 C4,2.1 6.2,0 9,0 C11.5,0 13.5,1.5 14.2,3.6 C14.8,3.3 15.4,3.2 16,3.2 C18.3,3.2 20,5 20,7.5 C20,10.1 18.2,12 15.8,12 Z" fill="#fff" stroke="#7d8fa6" stroke-width="0.9" vector-effect="non-scaling-stroke"/>
<g stroke="#f1cb45" stroke-width="2.2" stroke-linecap="round"><line x1="170.00" y1="390.80" x2="170.00" y2="388.60"/><line x1="176.01" y1="393.29" x2="177.57" y2="391.73"/><line x1="178.50" y1="399.30" x2="180.70" y2="399.30"/><line x1="176.01" y1="405.31" x2="177.57" y2="406.87"/><line x1="170.00" y1="407.80" x2="170.00" y2="410.00"/><line x1="163.99" y1="405.31" x2="162.43" y2="406.87"/><line x1="161.50" y1="399.30" x2="159.30" y2="399.30"/><line x1="163.99" y1="393.29" x2="162.43" y2="391.73"/></g><circle cx="170.00" cy="399.30" r="6.2" fill="#e9b726"/><path transform="translate(175.90,392.60) scale(0.770,0.875)" d="M4.5,12 C1.6,12 0,10.2 0,8.2 C0,6.2 1.6,4.7 3.6,4.9 C4,2.1 6.2,0 9,0 C11.5,0 13.5,1.5 14.2,3.6 C14.8,3.3 15.4,3.2 16,3.2 C18.3,3.2 20,5 20,7.5 C20,10.1 18.2,12 15.8,12 Z" fill="#fff" stroke="#7d8fa6" stroke-width="0.9" vector-effect="non-scaling-stroke"/><path transform="translate(152.50,401.80) scale(0.940,0.942)" d="M4.5,12 C1.6,12 0,10.2 0,8.2 C0,6.2 1.6,4.7 3.6,4.9 C4,2.1 6.2,0 9,0 C11.5,0 13.5,1.5 14.2,3.6 C14.8,3.3 15.4,3.2 16,3.2 C18.3,3.2 20,5 20,7.5 C20,10.1 18.2,12 15.8,12 Z" fill="#fff" stroke="#7d8fa6" stroke-width="0.9" vector-effect="non-scaling-stroke"/>
<path transform="translate(202.20,385.30)" d="M10.4,2 C2,12 6,27 17,27.5 C21,27.6 24.5,27 26.7,25.8 C18,24 11.5,14 10.4,2Z" fill="#f0bf25"/><circle cx="203.50" cy="395.30" r="1.5" fill="#e3e283"/><path transform="translate(223.00,398.30) scale(0.775,0.900)" d="M4.5,12 C1.6,12 0,10.2 0,8.2 C0,6.2 1.6,4.7 3.6,4.9 C4,2.1 6.2,0 9,0 C11.5,0 13.5,1.5 14.2,3.6 C14.8,3.3 15.4,3.2 16,3.2 C18.3,3.2 20,5 20,7.5 C20,10.1 18.2,12 15.8,12 Z" fill="#fff" stroke="#7d8fa6" stroke-width="0.9" vector-effect="non-scaling-stroke"/><path transform="translate(202.20,404.90) scale(0.730,0.717)" d="M4.5,12 C1.6,12 0,10.2 0,8.2 C0,6.2 1.6,4.7 3.6,4.9 C4,2.1 6.2,0 9,0 C11.5,0 13.5,1.5 14.2,3.6 C14.8,3.3 15.4,3.2 16,3.2 C18.3,3.2 20,5 20,7.5 C20,10.1 18.2,12 15.8,12 Z" fill="#fff" stroke="#7d8fa6" stroke-width="0.9" vector-effect="non-scaling-stroke"/>
<g stroke="#dcc35a" stroke-width="2.3" stroke-linecap="round"><line x1="278.99" y1="382.17" x2="277.06" y2="380.92"/><line x1="285.59" y1="378.81" x2="285.71" y2="376.51"/><line x1="291.41" y1="382.17" x2="293.34" y2="380.92"/></g><circle cx="285.20" cy="386.20" r="5.3" fill="#e9b726"/><path transform="translate(288.90,385.80) scale(0.750,0.900)" d="M4.5,12 C1.6,12 0,10.2 0,8.2 C0,6.2 1.6,4.7 3.6,4.9 C4,2.1 6.2,0 9,0 C11.5,0 13.5,1.5 14.2,3.6 C14.8,3.3 15.4,3.2 16,3.2 C18.3,3.2 20,5 20,7.5 C20,10.1 18.2,12 15.8,12 Z" fill="#fff" /><path transform="translate(269.10,388.40) scale(1.190,1.325)" d="M4.5,12 C1.6,12 0,10.2 0,8.2 C0,6.2 1.6,4.7 3.6,4.9 C4,2.1 6.2,0 9,0 C11.5,0 13.5,1.5 14.2,3.6 C14.8,3.3 15.4,3.2 16,3.2 C18.3,3.2 20,5 20,7.5 C20,10.1 18.2,12 15.8,12 Z" fill="#fff" />
<text x="262.8" y="415.6" font-size="9.50" font-weight="bold" fill="#ffffff" stroke="#ffffff" stroke-width="0.33" stroke-linejoin="round" textLength="44.8" lengthAdjust="spacingAndGlyphs" >25° - 31°C</text>
<rect x="45.5" y="431.3" width="198.5" height="57" rx="5.5" fill="#e4e8f6" stroke="#d3d7e5" stroke-width="0.8"/>
<path d="M91.3,431.7 H51 a5.5,5.5 0 0 0 -5.1,5.1 V482.8 a5.5,5.5 0 0 0 5.1,5.1 H91.3Z" fill="#dfe3f3"/>
<rect x="91.3" y="431.7" width="1.1" height="56.2" fill="#f6f7fc"/>
<rect x="254.6" y="431.2" width="63.3" height="57.6" rx="4.5" fill="#7f9fd3"/>
<text transform="translate(40.5,483.3) rotate(-90)" x="0" y="0" font-size="12.57" font-weight="bold" fill="#222e5e" stroke="#222e5e" stroke-width="0.50" stroke-linejoin="round" textLength="44.0" lengthAdjust="spacingAndGlyphs">Salinas</text>
<text x="54.5" y="442.3" font-size="8.38" font-weight="normal" fill="#3b4565" textLength="26.0" lengthAdjust="spacingAndGlyphs" >T. Máx.</text>
<text x="53.5" y="457.0" font-size="11.73" font-weight="bold" fill="#b4506c" stroke="#b4506c" stroke-width="0.41" stroke-linejoin="round" textLength="27.8" lengthAdjust="spacingAndGlyphs" >30°C</text>
<text x="54.5" y="470.7" font-size="8.38" font-weight="normal" fill="#3b4565" textLength="23.5" lengthAdjust="spacingAndGlyphs" >T. Min.</text>
<text x="53.5" y="484.3" font-size="11.73" font-weight="bold" fill="#232c5e" stroke="#232c5e" stroke-width="0.41" stroke-linejoin="round" textLength="27.8" lengthAdjust="spacingAndGlyphs" >26°C</text>
<text x="98.8" y="444.5" font-size="10.20" font-weight="normal" fill="#242a47" textLength="38.4" lengthAdjust="spacingAndGlyphs" >Mañana</text>
<text x="154.0" y="444.5" font-size="10.20" font-weight="normal" fill="#242a47" textLength="27.5" lengthAdjust="spacingAndGlyphs" >Tarde</text>
<text x="200.7" y="444.5" font-size="10.20" font-weight="normal" fill="#242a47" textLength="32.5" lengthAdjust="spacingAndGlyphs" >Noche</text>
<g stroke="#f1cb45" stroke-width="2.2" stroke-linecap="round"><line x1="122.80" y1="454.90" x2="122.80" y2="452.70"/><line x1="128.81" y1="457.39" x2="130.37" y2="455.83"/><line x1="131.30" y1="463.40" x2="133.50" y2="463.40"/><line x1="128.81" y1="469.41" x2="130.37" y2="470.97"/><line x1="122.80" y1="471.90" x2="122.80" y2="474.10"/><line x1="116.79" y1="469.41" x2="115.23" y2="470.97"/><line x1="114.30" y1="463.40" x2="112.10" y2="463.40"/><line x1="116.79" y1="457.39" x2="115.23" y2="455.83"/></g><circle cx="122.80" cy="463.40" r="6.2" fill="#e9b726"/><path transform="translate(128.70,456.70) scale(0.770,0.875)" d="M4.5,12 C1.6,12 0,10.2 0,8.2 C0,6.2 1.6,4.7 3.6,4.9 C4,2.1 6.2,0 9,0 C11.5,0 13.5,1.5 14.2,3.6 C14.8,3.3 15.4,3.2 16,3.2 C18.3,3.2 20,5 20,7.5 C20,10.1 18.2,12 15.8,12 Z" fill="#fff" stroke="#7d8fa6" stroke-width="0.9" vector-effect="non-scaling-stroke"/><path transform="translate(105.30,465.90) scale(0.940,0.942)" d="M4.5,12 C1.6,12 0,10.2 0,8.2 C0,6.2 1.6,4.7 3.6,4.9 C4,2.1 6.2,0 9,0 C11.5,0 13.5,1.5 14.2,3.6 C14.8,3.3 15.4,3.2 16,3.2 C18.3,3.2 20,5 20,7.5 C20,10.1 18.2,12 15.8,12 Z" fill="#fff" stroke="#7d8fa6" stroke-width="0.9" vector-effect="non-scaling-stroke"/>
<g stroke="#f1cb45" stroke-width="2.2" stroke-linecap="round"><line x1="170.00" y1="455.70" x2="170.00" y2="453.50"/><line x1="176.01" y1="458.19" x2="177.57" y2="456.63"/><line x1="178.50" y1="464.20" x2="180.70" y2="464.20"/><line x1="176.01" y1="470.21" x2="177.57" y2="471.77"/><line x1="170.00" y1="472.70" x2="170.00" y2="474.90"/><line x1="163.99" y1="470.21" x2="162.43" y2="471.77"/><line x1="161.50" y1="464.20" x2="159.30" y2="464.20"/><line x1="163.99" y1="458.19" x2="162.43" y2="456.63"/></g><circle cx="170.00" cy="464.20" r="6.2" fill="#e9b726"/><path transform="translate(175.90,457.50) scale(0.770,0.875)" d="M4.5,12 C1.6,12 0,10.2 0,8.2 C0,6.2 1.6,4.7 3.6,4.9 C4,2.1 6.2,0 9,0 C11.5,0 13.5,1.5 14.2,3.6 C14.8,3.3 15.4,3.2 16,3.2 C18.3,3.2 20,5 20,7.5 C20,10.1 18.2,12 15.8,12 Z" fill="#fff" stroke="#7d8fa6" stroke-width="0.9" vector-effect="non-scaling-stroke"/><path transform="translate(152.50,466.70) scale(0.940,0.942)" d="M4.5,12 C1.6,12 0,10.2 0,8.2 C0,6.2 1.6,4.7 3.6,4.9 C4,2.1 6.2,0 9,0 C11.5,0 13.5,1.5 14.2,3.6 C14.8,3.3 15.4,3.2 16,3.2 C18.3,3.2 20,5 20,7.5 C20,10.1 18.2,12 15.8,12 Z" fill="#fff" stroke="#7d8fa6" stroke-width="0.9" vector-effect="non-scaling-stroke"/><g transform="translate(173.30,462.00) scale(1.0)" fill="none" stroke-linecap="round"><path d="M0.7,7.3 H13 M0.7,10.6 H18.5" stroke="#8fd0ef" stroke-width="1.4"/><path d="M0.7,6 H11.5 A3,3 0 1 0 8.5,3.2" stroke="#1d5c8c" stroke-width="1.55"/><path d="M0.7,9.3 H19 A2.4,2.4 0 1 0 16.6,6.9" stroke="#1d5c8c" stroke-width="1.55"/><path d="M0.7,13 H16.4 A2.6,2.6 0 1 1 13.8,15.6" stroke="#1d5c8c" stroke-width="1.55"/></g>
<path transform="translate(204.60,453.00)" d="M5.8,0 C0,8 -1,15 1.5,21 L8.4,12 C9,7 7.5,3 5.8,0Z" fill="#e9b726"/><path transform="translate(206.30,462.00) scale(1.335,1.358)" d="M4.5,12 C1.6,12 0,10.2 0,8.2 C0,6.2 1.6,4.7 3.6,4.9 C4,2.1 6.2,0 9,0 C11.5,0 13.5,1.5 14.2,3.6 C14.8,3.3 15.4,3.2 16,3.2 C18.3,3.2 20,5 20,7.5 C20,10.1 18.2,12 15.8,12 Z" fill="#fff" stroke="#7d8fa6" stroke-width="0.9" vector-effect="non-scaling-stroke"/>
<g stroke="#dcc35a" stroke-width="2.3" stroke-linecap="round"><line x1="277.89" y1="449.97" x2="275.96" y2="448.72"/><line x1="284.49" y1="446.61" x2="284.61" y2="444.31"/><line x1="290.31" y1="449.97" x2="292.24" y2="448.72"/></g><circle cx="284.10" cy="454.00" r="5.3" fill="#e9b726"/><path transform="translate(287.80,453.60) scale(0.750,0.900)" d="M4.5,12 C1.6,12 0,10.2 0,8.2 C0,6.2 1.6,4.7 3.6,4.9 C4,2.1 6.2,0 9,0 C11.5,0 13.5,1.5 14.2,3.6 C14.8,3.3 15.4,3.2 16,3.2 C18.3,3.2 20,5 20,7.5 C20,10.1 18.2,12 15.8,12 Z" fill="#fff" /><path transform="translate(268.00,456.20) scale(1.190,1.325)" d="M4.5,12 C1.6,12 0,10.2 0,8.2 C0,6.2 1.6,4.7 3.6,4.9 C4,2.1 6.2,0 9,0 C11.5,0 13.5,1.5 14.2,3.6 C14.8,3.3 15.4,3.2 16,3.2 C18.3,3.2 20,5 20,7.5 C20,10.1 18.2,12 15.8,12 Z" fill="#fff" />
<text x="263.6" y="483.8" font-size="9.50" font-weight="bold" fill="#ffffff" stroke="#ffffff" stroke-width="0.33" stroke-linejoin="round" textLength="46.2" lengthAdjust="spacingAndGlyphs" >26° - 29°C</text>
<rect x="45.5" y="497" width="198.5" height="56.6" rx="5.5" fill="#e4e8f6" stroke="#d3d7e5" stroke-width="0.8"/>
<path d="M91.3,497.4 H51 a5.5,5.5 0 0 0 -5.1,5.1 V548.1 a5.5,5.5 0 0 0 5.1,5.1 H91.3Z" fill="#dfe3f3"/>
<rect x="91.3" y="497.4" width="1.1" height="55.800000000000004" fill="#f6f7fc"/>
<rect x="254.6" y="496.2" width="63.3" height="58" rx="4.5" fill="#7f9fd3"/>
<text transform="translate(40.5,555.0) rotate(-90)" x="0" y="0" font-size="12.57" font-weight="bold" fill="#222e5e" stroke="#222e5e" stroke-width="0.50" stroke-linejoin="round" textLength="53.3" lengthAdjust="spacingAndGlyphs">Sta. Rosa</text>
<text x="54.5" y="508.3" font-size="8.38" font-weight="normal" fill="#3b4565" textLength="26.0" lengthAdjust="spacingAndGlyphs" >T. Máx.</text>
<text x="53.5" y="522.6" font-size="11.73" font-weight="bold" fill="#b4506c" stroke="#b4506c" stroke-width="0.41" stroke-linejoin="round" textLength="27.8" lengthAdjust="spacingAndGlyphs" >31°C</text>
<text x="54.5" y="536.0" font-size="8.38" font-weight="normal" fill="#3b4565" textLength="23.5" lengthAdjust="spacingAndGlyphs" >T. Min.</text>
<text x="53.5" y="550.3" font-size="11.73" font-weight="bold" fill="#232c5e" stroke="#232c5e" stroke-width="0.41" stroke-linejoin="round" textLength="27.8" lengthAdjust="spacingAndGlyphs" >24°C</text>
<text x="99.0" y="510.2" font-size="10.20" font-weight="normal" fill="#242a47" textLength="38.4" lengthAdjust="spacingAndGlyphs" >Mañana</text>
<text x="154.2" y="510.2" font-size="10.20" font-weight="normal" fill="#242a47" textLength="27.5" lengthAdjust="spacingAndGlyphs" >Tarde</text>
<text x="200.9" y="510.2" font-size="10.20" font-weight="normal" fill="#242a47" textLength="32.5" lengthAdjust="spacingAndGlyphs" >Noche</text>
<g stroke="#f1cb45" stroke-width="2.2" stroke-linecap="round"><line x1="121.50" y1="518.90" x2="121.50" y2="516.70"/><line x1="127.51" y1="521.39" x2="129.07" y2="519.83"/><line x1="130.00" y1="527.40" x2="132.20" y2="527.40"/><line x1="127.51" y1="533.41" x2="129.07" y2="534.97"/><line x1="121.50" y1="535.90" x2="121.50" y2="538.10"/><line x1="115.49" y1="533.41" x2="113.93" y2="534.97"/><line x1="113.00" y1="527.40" x2="110.80" y2="527.40"/><line x1="115.49" y1="521.39" x2="113.93" y2="519.83"/></g><circle cx="121.50" cy="527.40" r="6.2" fill="#e9b726"/><path transform="translate(127.40,520.70) scale(0.770,0.875)" d="M4.5,12 C1.6,12 0,10.2 0,8.2 C0,6.2 1.6,4.7 3.6,4.9 C4,2.1 6.2,0 9,0 C11.5,0 13.5,1.5 14.2,3.6 C14.8,3.3 15.4,3.2 16,3.2 C18.3,3.2 20,5 20,7.5 C20,10.1 18.2,12 15.8,12 Z" fill="#fff" stroke="#7d8fa6" stroke-width="0.9" vector-effect="non-scaling-stroke"/><path transform="translate(104.00,529.90) scale(0.940,0.942)" d="M4.5,12 C1.6,12 0,10.2 0,8.2 C0,6.2 1.6,4.7 3.6,4.9 C4,2.1 6.2,0 9,0 C11.5,0 13.5,1.5 14.2,3.6 C14.8,3.3 15.4,3.2 16,3.2 C18.3,3.2 20,5 20,7.5 C20,10.1 18.2,12 15.8,12 Z" fill="#fff" stroke="#7d8fa6" stroke-width="0.9" vector-effect="non-scaling-stroke"/>
<g stroke="#f1cb45" stroke-width="2.1" stroke-linecap="round"><line x1="161.83" y1="520.37" x2="159.86" y2="518.99"/><line x1="168.58" y1="517.00" x2="168.66" y2="514.61"/><line x1="174.77" y1="520.37" x2="176.74" y2="518.99"/></g><circle cx="168.30" cy="524.90" r="5.8" fill="#e9b726"/><path transform="translate(172.05,523.15) scale(0.810,0.975)" d="M4.5,12 C1.6,12 0,10.2 0,8.2 C0,6.2 1.6,4.7 3.6,4.9 C4,2.1 6.2,0 9,0 C11.5,0 13.5,1.5 14.2,3.6 C14.8,3.3 15.4,3.2 16,3.2 C18.3,3.2 20,5 20,7.5 C20,10.1 18.2,12 15.8,12 Z" fill="#fff" stroke="#7d8fa6" stroke-width="0.9" vector-effect="non-scaling-stroke"/><path transform="translate(151.55,525.65) scale(1.275,1.458)" d="M4.5,12 C1.6,12 0,10.2 0,8.2 C0,6.2 1.6,4.7 3.6,4.9 C4,2.1 6.2,0 9,0 C11.5,0 13.5,1.5 14.2,3.6 C14.8,3.3 15.4,3.2 16,3.2 C18.3,3.2 20,5 20,7.5 C20,10.1 18.2,12 15.8,12 Z" fill="#fff" stroke="#7d8fa6" stroke-width="0.9" vector-effect="non-scaling-stroke"/>
<path transform="translate(204.40,518.30)" d="M5.8,0 C0,8 -1,15 1.5,21 L8.4,12 C9,7 7.5,3 5.8,0Z" fill="#e9b726"/><path transform="translate(206.10,527.30) scale(1.335,1.358)" d="M4.5,12 C1.6,12 0,10.2 0,8.2 C0,6.2 1.6,4.7 3.6,4.9 C4,2.1 6.2,0 9,0 C11.5,0 13.5,1.5 14.2,3.6 C14.8,3.3 15.4,3.2 16,3.2 C18.3,3.2 20,5 20,7.5 C20,10.1 18.2,12 15.8,12 Z" fill="#fff" stroke="#7d8fa6" stroke-width="0.9" vector-effect="non-scaling-stroke"/>
<g stroke="#dcc35a" stroke-width="2.3" stroke-linecap="round"><line x1="280.09" y1="512.17" x2="278.16" y2="510.92"/><line x1="286.69" y1="508.81" x2="286.81" y2="506.51"/><line x1="292.51" y1="512.17" x2="294.44" y2="510.92"/></g><circle cx="286.30" cy="516.20" r="5.3" fill="#e9b726"/><path transform="translate(290.00,515.80) scale(0.750,0.900)" d="M4.5,12 C1.6,12 0,10.2 0,8.2 C0,6.2 1.6,4.7 3.6,4.9 C4,2.1 6.2,0 9,0 C11.5,0 13.5,1.5 14.2,3.6 C14.8,3.3 15.4,3.2 16,3.2 C18.3,3.2 20,5 20,7.5 C20,10.1 18.2,12 15.8,12 Z" fill="#fff" /><path transform="translate(270.20,518.40) scale(1.190,1.325)" d="M4.5,12 C1.6,12 0,10.2 0,8.2 C0,6.2 1.6,4.7 3.6,4.9 C4,2.1 6.2,0 9,0 C11.5,0 13.5,1.5 14.2,3.6 C14.8,3.3 15.4,3.2 16,3.2 C18.3,3.2 20,5 20,7.5 C20,10.1 18.2,12 15.8,12 Z" fill="#fff" />
<text x="265.0" y="549.2" font-size="9.50" font-weight="bold" fill="#ffffff" stroke="#ffffff" stroke-width="0.33" stroke-linejoin="round" textLength="47.7" lengthAdjust="spacingAndGlyphs" >24° - 28°C</text>
<text x="32.0" y="583.6" font-size="9.50" font-weight="bold" fill="#1f2650" stroke="#1f2650" stroke-width="0.19" stroke-linejoin="round" textLength="260.6" lengthAdjust="spacingAndGlyphs" >Instituto Nacional de Meteorología e Hidrología - INAMHI</text>
<path d="M534.7,107.8 L538.7,113.7 L546.7,119.0 L554.7,123.0 L556.5,132.3 L556.8,146.0 L562.0,152.5 L564.5,157.5 L566.5,163.0 L567.0,169.0 L565.5,175.0 L563.0,179.0 L560.0,183.0 L556.0,188.0 L552.0,192.0 L548.0,196.3 L544.5,194.0 L540.0,192.5 L530.0,195.0 L520.0,197.3 L510.7,197.7 L499.0,199.5 L492.5,202.5 L491.0,206.0 L493.6,211.8 L496.0,216.5 L505.0,218.5 L514.5,221.5 L517.5,227.5 L525.0,233.5 L535.5,236.5 L543.8,246.3 L540.0,250.5 L531.0,250.0 L528.8,254.5 L523.5,259.8 L520.5,265.0 L514.5,271.8 L508.5,274.8 L501.0,280.0 L501.8,286.0 L499.3,290.0 L494.7,298.0 L493.0,308.0 L492.0,316.7 L498.7,321.3 L492.0,328.7 L493.3,332.7 L496.0,336.0 L497.3,343.3 L498.7,354.0 L500.0,362.0 L501.7,372.0 L501.7,385.0 L505.0,391.0 L511.0,399.5 L500.0,410.0 L488.0,420.0 L482.0,425.0 L491.0,425.6 L486.0,431.0 L478.0,442.0 L469.0,454.0 L464.0,466.0 L462.5,469.2 L466.7,471.7 L473.3,481.7 L478.3,490.8 L484.2,495.8 L485.0,503.3 L488.3,513.3 L492.5,519.2 L488.3,524.2 L486.7,530.0 L481.7,535.0 L473.3,530.0 L463.3,527.5 L450.0,529.2 L438.3,530.0 L430.8,534.2 L427.5,530.0 L424.2,523.3 L425.0,515.0 L421.7,508.3 L419.2,499.2 L416.0,496.0 L421.0,493.5 L428.0,494.0 L434.2,492.5 L437.5,486.7 L440.0,481.7 L445.8,476.7 L451.7,469.2 L454.0,460.0 L458.0,450.0 L460.0,440.0 L465.0,434.0 L464.0,420.0 L459.0,417.0 L456.0,416.0 L455.0,404.0 L453.8,392.0 L451.4,392.0 L451.0,402.0 L446.0,408.0 L440.0,415.0 L435.0,425.0 L430.0,430.0 L422.0,435.0 L420.0,441.0 L412.0,435.0 L401.7,430.0 L395.0,423.3 L386.7,416.7 L375.0,410.0 L370.0,405.0 L370.0,399.5 L374.2,396.7 L378.3,392.5 L381.7,386.7 L382.5,378.3 L380.0,368.3 L377.5,358.3 L373.3,351.7 L378.0,347.0 L381.7,341.0 L379.4,333.6 L377.5,326.6 L373.6,318.7 L373.0,311.5 L383.0,304.5 L396.7,298.7 L400.0,290.7 L402.7,281.3 L407.3,273.3 L406.0,268.0 L402.7,260.0 L403.2,252.0 L411.2,242.0 L420.7,233.0 L431.7,224.0 L441.2,214.5 L445.5,207.4 L442.2,202.7 L438.2,196.7 L434.7,190.8 L436.0,186.0 L440.0,181.7 L434.7,175.0 L433.3,166.5 L437.0,164.2 L449.3,165.6 L460.0,166.6 L470.7,155.0 L477.3,147.0 L488.0,145.7 L500.0,141.3 L502.7,142.7 L506.7,140.0 L513.3,134.7 L517.3,128.7 L522.7,124.7 L526.7,121.3 L532.0,118.0 L531.3,114.7 L534.7,112.7Z" fill="#7c9dd2" stroke="#2d4278" stroke-width="0.8" stroke-linejoin="round"/>
<path d="M441.0,410.0 L445.0,408.5 L449.0,411.0 L450.0,418.0 L448.0,427.0 L444.0,432.0 L440.5,430.0 L441.5,422.0 L440.0,416.0Z" fill="#7c9dd2" stroke="#2d4278" stroke-width="0.6" stroke-linejoin="round"/>
<path d="M451.5,418.0 L454.0,417.0 L456.0,424.0 L455.5,433.0 L452.5,436.0 L451.0,430.0Z" fill="#7c9dd2" stroke="#2d4278" stroke-width="0.6" stroke-linejoin="round"/>
<path d="M457.5,421.0 L461.0,420.0 L463.5,424.0 L463.0,431.0 L459.5,434.0 L457.5,429.0Z" fill="#7c9dd2" stroke="#2d4278" stroke-width="0.6" stroke-linejoin="round"/>
<path d="M421.0,447.0 L424.0,442.0 L435.0,438.0 L446.0,440.0 L449.6,444.0 L445.0,448.0 L440.0,454.0 L434.0,462.0 L426.0,466.0 L421.0,462.0 L420.5,455.0 L422.0,450.0Z" fill="#7c9dd2" stroke="#2d4278" stroke-width="0.8" stroke-linejoin="round"/>
<path d="M415.8,495.0 L418.0,491.0 L423.0,490.5 L429.0,489.5 L435.5,489.0 L434.0,493.0 L428.0,495.0 L422.0,496.5 L417.0,497.5Z" fill="#7c9dd2" stroke="#2d4278" stroke-width="0.6" stroke-linejoin="round"/>
<path d="M418.0,493.5 L422.0,492.0 L426.0,493.0 L431.0,491.5" fill="none" stroke="#ffffff" stroke-width="0.7" stroke-linejoin="round" stroke-linecap="round"/>
<path d="M519.5,129.5 L521.2,132.5 L522.6,129.8 L523.6,135.0 L525.4,131.0 L526.2,137.5 L528.0,133.5 L528.6,128.5 L530.6,131.0 L531.4,125.5 L533.4,127.5 L534.2,122.5 L536.0,124.5" fill="none" stroke="#566a94" stroke-width="1.7" stroke-linejoin="round" stroke-linecap="round"/>
<path d="M519.5,129.5 L521.2,132.5 L522.6,129.8 L523.6,135.0 L525.4,131.0 L526.2,137.5 L528.0,133.5 L528.6,128.5 L530.6,131.0 L531.4,125.5 L533.4,127.5 L534.2,122.5 L536.0,124.5" fill="none" stroke="#e9eef8" stroke-width="0.8" stroke-linejoin="round" stroke-linecap="round"/>
<ellipse cx="537.2" cy="125.4" rx="1.7" ry="1" transform="rotate(-25 537.2 125.4)" fill="#f4f6fb" stroke="#566a94" stroke-width="0.5"/>
<ellipse cx="532.4" cy="119.8" rx="1.2" ry="0.9" fill="#f4f6fb" stroke="#566a94" stroke-width="0.5"/>
<ellipse cx="521.8" cy="143" rx="0.9" ry="1.4" transform="rotate(30 521.8 143)" fill="#9fb6dc" stroke="#566a94" stroke-width="0.5"/>
<path d="M438.5,190.0 L440.5,196.0 L442.0,203.0 L444.0,209.0 L445.5,215.0" fill="none" stroke="#ffffff" stroke-width="1.6" stroke-linejoin="round" stroke-linecap="round"/>
<path d="M437.6,190.0 L439.6,196.0 L441.0,203.0 L443.0,209.0 L444.6,215.0" fill="none" stroke="#2d4278" stroke-width="0.5" stroke-linejoin="round" stroke-linecap="round"/>
<path d="M439.4,190.0 L441.4,196.0 L443.0,203.0 L445.0,209.0 L446.4,215.0" fill="none" stroke="#2d4278" stroke-width="0.5" stroke-linejoin="round" stroke-linecap="round"/>
<path d="M407.3,273.3 L410.0,275.0 L414.0,276.5 L417.0,275.5 L415.0,278.0 L411.0,278.0 L408.0,276.0Z" fill="#ffffff" stroke="#2d4278" stroke-width="0.6" stroke-linejoin="round"/>
<path d="M447.5,206.0 L451.0,201.0 L455.0,198.4 L460.0,200.0 L466.0,206.0 L471.0,214.0 L470.3,220.0" fill="none" stroke="#2d4278" stroke-width="0.8" stroke-linejoin="round" stroke-linecap="round"/>
<path d="M496.0,216.5 L488.0,217.0 L480.0,217.8 L470.3,220.0 L473.3,230.5 L478.5,236.5 L486.0,241.0 L488.3,247.0 L487.5,254.5 L485.0,262.0 L484.5,268.0 L492.8,272.5 L495.0,281.5 L501.0,280.0" fill="none" stroke="#2d4278" stroke-width="0.8" stroke-linejoin="round" stroke-linecap="round"/>
<path d="M484.5,268.0 L480.8,272.5 L477.8,283.0 L473.3,295.0 L462.0,296.0 L460.0,303.3 L454.7,312.7 L449.3,321.3 L440.0,323.3 L433.0,325.5" fill="none" stroke="#2d4278" stroke-width="0.8" stroke-linejoin="round" stroke-linecap="round"/>
<path d="M473.3,295.0 L470.0,305.0 L466.5,315.0 L463.3,322.0 L456.0,330.0 L452.7,336.7 L453.3,346.0 L456.0,356.7 L459.0,364.0 L466.3,370.8 L471.9,375.1 L484.7,376.5 L493.2,382.2 L501.7,385.0" fill="none" stroke="#2d4278" stroke-width="0.8" stroke-linejoin="round" stroke-linecap="round"/>
<path d="M433.0,325.5 L432.5,330.0 L431.7,351.7 L429.0,363.5 L420.0,362.5 L406.7,360.8 L395.0,360.0 L390.0,359.2 L377.5,358.3" fill="none" stroke="#2d4278" stroke-width="0.8" stroke-linejoin="round" stroke-linecap="round"/>
<path d="M395.0,360.0 L396.7,370.0 L401.7,377.5 L410.0,383.3 L416.7,389.2 L420.0,395.0 L421.7,401.7 L417.5,408.3 L410.0,413.3 L403.3,417.5 L401.7,425.0 L401.7,430.0" fill="none" stroke="#2d4278" stroke-width="0.8" stroke-linejoin="round" stroke-linecap="round"/>
<path d="M452.2,400.0 L451.8,392.0 L450.6,386.0 L446.5,380.5 L442.2,376.8 L439.8,373.3" fill="none" stroke="#2d4278" stroke-width="2.3" stroke-linejoin="round" stroke-linecap="round"/>
<path d="M452.6,393.0 L455.5,386.5 L459.5,381.5 L463.2,378.0 L467.0,375.5 L470.2,372.9" fill="none" stroke="#2d4278" stroke-width="2.3" stroke-linejoin="round" stroke-linecap="round"/>
<path d="M452.2,400.0 L451.8,392.0 L450.6,386.0 L446.5,380.5 L442.2,376.8 L439.8,373.3" fill="none" stroke="#ffffff" stroke-width="1.1" stroke-linejoin="round" stroke-linecap="round"/>
<path d="M452.6,393.0 L455.5,386.5 L459.5,381.5 L463.2,378.0 L467.0,375.5 L470.2,372.9" fill="none" stroke="#ffffff" stroke-width="1.1" stroke-linejoin="round" stroke-linecap="round"/>
<path d="M463.2,378.0 L466.5,381.5 L470.5,382.5" fill="none" stroke="#2d4278" stroke-width="0.5" stroke-linejoin="round" stroke-linecap="round"/>
<text x="488.0" y="176.6" font-size="7.96" font-weight="normal" fill="#ffffff" textLength="38.7" lengthAdjust="spacingAndGlyphs" >Esmeraldas</text>
<text x="484.5" y="228.6" font-size="7.96" font-weight="normal" fill="#ffffff" textLength="19.5" lengthAdjust="spacingAndGlyphs" >Santo</text>
<text x="478.2" y="235.8" font-size="7.96" font-weight="normal" fill="#ffffff" textLength="31.8" lengthAdjust="spacingAndGlyphs" >Domingo</text>
<text x="431.5" y="273.0" font-size="7.82" font-weight="normal" fill="#ffffff" textLength="26.0" lengthAdjust="spacingAndGlyphs" >Manabí</text>
<text x="462.0" y="346.0" font-size="8.24" font-weight="normal" fill="#ffffff" textLength="27.3" lengthAdjust="spacingAndGlyphs" >Los Ríos</text>
<text x="382.5" y="396.3" font-size="6.98" font-weight="normal" fill="#ffffff" textLength="35.0" lengthAdjust="spacingAndGlyphs" >Santa Elena</text>
<text x="448.3" y="513.0" font-size="7.68" font-weight="normal" fill="#ffffff" textLength="20.0" lengthAdjust="spacingAndGlyphs" >El Oro</text>
<g stroke="#f1cb45" stroke-width="2.2" stroke-linecap="round"><line x1="460.60" y1="142.50" x2="460.60" y2="140.30"/><line x1="466.61" y1="144.99" x2="468.17" y2="143.43"/><line x1="469.10" y1="151.00" x2="471.30" y2="151.00"/><line x1="466.61" y1="157.01" x2="468.17" y2="158.57"/><line x1="460.60" y1="159.50" x2="460.60" y2="161.70"/><line x1="454.59" y1="157.01" x2="453.03" y2="158.57"/><line x1="452.10" y1="151.00" x2="449.90" y2="151.00"/><line x1="454.59" y1="144.99" x2="453.03" y2="143.43"/></g><circle cx="460.60" cy="151.00" r="6.2" fill="#e9b726"/><path transform="translate(466.50,144.30) scale(0.770,0.875)" d="M4.5,12 C1.6,12 0,10.2 0,8.2 C0,6.2 1.6,4.7 3.6,4.9 C4,2.1 6.2,0 9,0 C11.5,0 13.5,1.5 14.2,3.6 C14.8,3.3 15.4,3.2 16,3.2 C18.3,3.2 20,5 20,7.5 C20,10.1 18.2,12 15.8,12 Z" fill="#fff" stroke="#7d8fa6" stroke-width="0.9" vector-effect="non-scaling-stroke"/><path transform="translate(443.10,153.50) scale(0.940,0.942)" d="M4.5,12 C1.6,12 0,10.2 0,8.2 C0,6.2 1.6,4.7 3.6,4.9 C4,2.1 6.2,0 9,0 C11.5,0 13.5,1.5 14.2,3.6 C14.8,3.3 15.4,3.2 16,3.2 C18.3,3.2 20,5 20,7.5 C20,10.1 18.2,12 15.8,12 Z" fill="#fff" stroke="#7d8fa6" stroke-width="0.9" vector-effect="non-scaling-stroke"/>
<path d="M458.4,159.5 L462.2,159.5 L460,168.8Z" fill="#8c1d3a"/>
<g stroke="#e3cc5c" stroke-width="2.2" stroke-linecap="round"><line x1="549.94" y1="165.26" x2="547.81" y2="163.76"/><line x1="554.46" y1="162.26" x2="553.92" y2="159.72"/><line x1="559.47" y1="162.97" x2="560.69" y2="160.67"/><line x1="563.04" y1="167.21" x2="565.51" y2="166.41"/><line x1="562.53" y1="172.97" x2="564.83" y2="174.19"/></g><circle cx="556.00" cy="169.50" r="5.4" fill="#e9b726"/><path transform="translate(532.00,167.50) scale(1.375,1.292)" d="M4.5,12 C1.6,12 0,10.2 0,8.2 C0,6.2 1.6,4.7 3.6,4.9 C4,2.1 6.2,0 9,0 C11.5,0 13.5,1.5 14.2,3.6 C14.8,3.3 15.4,3.2 16,3.2 C18.3,3.2 20,5 20,7.5 C20,10.1 18.2,12 15.8,12 Z" fill="#fff" /><g stroke="#3f6cb6" stroke-width="1" stroke-linecap="round"><line x1="535.0" y1="184.1" x2="532.4" y2="190.1"/><line x1="539.8" y1="184.1" x2="537.2" y2="190.1"/><line x1="544.6" y1="184.1" x2="542.0" y2="190.1"/><line x1="549.4" y1="184.1" x2="546.8" y2="190.1"/><line x1="554.2" y1="184.1" x2="551.6" y2="190.1"/></g>
<g stroke="#dcc35a" stroke-width="2.2" stroke-linecap="round"><line x1="461.63" y1="197.47" x2="459.74" y2="195.99"/><line x1="467.30" y1="194.70" x2="467.30" y2="192.30"/><line x1="472.97" y1="197.47" x2="474.86" y2="195.99"/></g><circle cx="467.30" cy="201.90" r="5.2" fill="#e9b726"/><path transform="translate(471.80,200.30) scale(0.750,0.808)" d="M4.5,12 C1.6,12 0,10.2 0,8.2 C0,6.2 1.6,4.7 3.6,4.9 C4,2.1 6.2,0 9,0 C11.5,0 13.5,1.5 14.2,3.6 C14.8,3.3 15.4,3.2 16,3.2 C18.3,3.2 20,5 20,7.5 C20,10.1 18.2,12 15.8,12 Z" fill="#fff" /><path transform="translate(450.00,202.50) scale(1.225,1.367)" d="M4.5,12 C1.6,12 0,10.2 0,8.2 C0,6.2 1.6,4.7 3.6,4.9 C4,2.1 6.2,0 9,0 C11.5,0 13.5,1.5 14.2,3.6 C14.8,3.3 15.4,3.2 16,3.2 C18.3,3.2 20,5 20,7.5 C20,10.1 18.2,12 15.8,12 Z" fill="#d8cfd2" stroke="#737987" stroke-width="0.9" vector-effect="non-scaling-stroke"/><circle cx="460.10" cy="222.70" r="0.8" fill="#2a3a6a"/><circle cx="463.90" cy="222.70" r="0.8" fill="#2a3a6a"/>
<g stroke="#f1cb45" stroke-width="2.2" stroke-linecap="round"><line x1="416.90" y1="210.30" x2="416.90" y2="208.10"/><line x1="422.91" y1="212.79" x2="424.47" y2="211.23"/><line x1="425.40" y1="218.80" x2="427.60" y2="218.80"/><line x1="422.91" y1="224.81" x2="424.47" y2="226.37"/><line x1="416.90" y1="227.30" x2="416.90" y2="229.50"/><line x1="410.89" y1="224.81" x2="409.33" y2="226.37"/><line x1="408.40" y1="218.80" x2="406.20" y2="218.80"/><line x1="410.89" y1="212.79" x2="409.33" y2="211.23"/></g><circle cx="416.90" cy="218.80" r="6.2" fill="#e9b726"/><path transform="translate(422.80,212.10) scale(0.770,0.875)" d="M4.5,12 C1.6,12 0,10.2 0,8.2 C0,6.2 1.6,4.7 3.6,4.9 C4,2.1 6.2,0 9,0 C11.5,0 13.5,1.5 14.2,3.6 C14.8,3.3 15.4,3.2 16,3.2 C18.3,3.2 20,5 20,7.5 C20,10.1 18.2,12 15.8,12 Z" fill="#fff" stroke="#7d8fa6" stroke-width="0.9" vector-effect="non-scaling-stroke"/><path transform="translate(399.40,221.30) scale(0.940,0.942)" d="M4.5,12 C1.6,12 0,10.2 0,8.2 C0,6.2 1.6,4.7 3.6,4.9 C4,2.1 6.2,0 9,0 C11.5,0 13.5,1.5 14.2,3.6 C14.8,3.3 15.4,3.2 16,3.2 C18.3,3.2 20,5 20,7.5 C20,10.1 18.2,12 15.8,12 Z" fill="#fff" stroke="#7d8fa6" stroke-width="0.9" vector-effect="non-scaling-stroke"/>
<g stroke="#dcc35a" stroke-width="2.3" stroke-linecap="round"><line x1="498.09" y1="242.27" x2="496.16" y2="241.02"/><line x1="504.69" y1="238.91" x2="504.81" y2="236.61"/><line x1="510.51" y1="242.27" x2="512.44" y2="241.02"/></g><circle cx="504.30" cy="246.30" r="5.3" fill="#e9b726"/><path transform="translate(508.00,245.90) scale(0.750,0.900)" d="M4.5,12 C1.6,12 0,10.2 0,8.2 C0,6.2 1.6,4.7 3.6,4.9 C4,2.1 6.2,0 9,0 C11.5,0 13.5,1.5 14.2,3.6 C14.8,3.3 15.4,3.2 16,3.2 C18.3,3.2 20,5 20,7.5 C20,10.1 18.2,12 15.8,12 Z" fill="#fff" stroke="#9aa9c2" stroke-width="0.9" vector-effect="non-scaling-stroke"/><path transform="translate(488.20,248.50) scale(1.190,1.325)" d="M4.5,12 C1.6,12 0,10.2 0,8.2 C0,6.2 1.6,4.7 3.6,4.9 C4,2.1 6.2,0 9,0 C11.5,0 13.5,1.5 14.2,3.6 C14.8,3.3 15.4,3.2 16,3.2 C18.3,3.2 20,5 20,7.5 C20,10.1 18.2,12 15.8,12 Z" fill="#fff" stroke="#9aa9c2" stroke-width="0.9" vector-effect="non-scaling-stroke"/>
<g stroke="#dcc35a" stroke-width="2.2" stroke-linecap="round"><line x1="434.33" y1="277.07" x2="432.44" y2="275.59"/><line x1="440.00" y1="274.30" x2="440.00" y2="271.90"/><line x1="445.67" y1="277.07" x2="447.56" y2="275.59"/></g><circle cx="440.00" cy="281.50" r="5.2" fill="#e9b726"/><path transform="translate(444.50,279.90) scale(0.750,0.808)" d="M4.5,12 C1.6,12 0,10.2 0,8.2 C0,6.2 1.6,4.7 3.6,4.9 C4,2.1 6.2,0 9,0 C11.5,0 13.5,1.5 14.2,3.6 C14.8,3.3 15.4,3.2 16,3.2 C18.3,3.2 20,5 20,7.5 C20,10.1 18.2,12 15.8,12 Z" fill="#fff" /><path transform="translate(422.70,282.10) scale(1.225,1.367)" d="M4.5,12 C1.6,12 0,10.2 0,8.2 C0,6.2 1.6,4.7 3.6,4.9 C4,2.1 6.2,0 9,0 C11.5,0 13.5,1.5 14.2,3.6 C14.8,3.3 15.4,3.2 16,3.2 C18.3,3.2 20,5 20,7.5 C20,10.1 18.2,12 15.8,12 Z" fill="#d8cfd2" stroke="#737987" stroke-width="0.9" vector-effect="non-scaling-stroke"/><circle cx="432.80" cy="302.30" r="0.8" fill="#2a3a6a"/><circle cx="436.60" cy="302.30" r="0.8" fill="#2a3a6a"/>
<circle cx="385.2" cy="295.2" r="2.5" fill="#ffffff" stroke="#c8402f" stroke-width="0.9"/>
<g stroke="#f1cb45" stroke-width="2.2" stroke-linecap="round"><line x1="378.70" y1="295.50" x2="378.70" y2="293.30"/><line x1="384.71" y1="297.99" x2="386.27" y2="296.43"/><line x1="387.20" y1="304.00" x2="389.40" y2="304.00"/><line x1="384.71" y1="310.01" x2="386.27" y2="311.57"/><line x1="378.70" y1="312.50" x2="378.70" y2="314.70"/><line x1="372.69" y1="310.01" x2="371.13" y2="311.57"/><line x1="370.20" y1="304.00" x2="368.00" y2="304.00"/><line x1="372.69" y1="297.99" x2="371.13" y2="296.43"/></g><circle cx="378.70" cy="304.00" r="6.2" fill="#e9b726"/><path transform="translate(384.60,297.30) scale(0.770,0.875)" d="M4.5,12 C1.6,12 0,10.2 0,8.2 C0,6.2 1.6,4.7 3.6,4.9 C4,2.1 6.2,0 9,0 C11.5,0 13.5,1.5 14.2,3.6 C14.8,3.3 15.4,3.2 16,3.2 C18.3,3.2 20,5 20,7.5 C20,10.1 18.2,12 15.8,12 Z" fill="#fff" stroke="#7d8fa6" stroke-width="0.9" vector-effect="non-scaling-stroke"/><path transform="translate(361.20,306.50) scale(0.940,0.942)" d="M4.5,12 C1.6,12 0,10.2 0,8.2 C0,6.2 1.6,4.7 3.6,4.9 C4,2.1 6.2,0 9,0 C11.5,0 13.5,1.5 14.2,3.6 C14.8,3.3 15.4,3.2 16,3.2 C18.3,3.2 20,5 20,7.5 C20,10.1 18.2,12 15.8,12 Z" fill="#fff" stroke="#7d8fa6" stroke-width="0.9" vector-effect="non-scaling-stroke"/>
<g stroke="#dcc35a" stroke-width="2.2" stroke-linecap="round"><line x1="474.33" y1="301.87" x2="472.44" y2="300.39"/><line x1="480.00" y1="299.10" x2="480.00" y2="296.70"/><line x1="485.67" y1="301.87" x2="487.56" y2="300.39"/></g><circle cx="480.00" cy="306.30" r="5.2" fill="#e9b726"/><path transform="translate(484.50,304.70) scale(0.750,0.808)" d="M4.5,12 C1.6,12 0,10.2 0,8.2 C0,6.2 1.6,4.7 3.6,4.9 C4,2.1 6.2,0 9,0 C11.5,0 13.5,1.5 14.2,3.6 C14.8,3.3 15.4,3.2 16,3.2 C18.3,3.2 20,5 20,7.5 C20,10.1 18.2,12 15.8,12 Z" fill="#fff" stroke="#9aa9c2" stroke-width="0.9" vector-effect="non-scaling-stroke"/><path transform="translate(462.70,306.90) scale(1.225,1.367)" d="M4.5,12 C1.6,12 0,10.2 0,8.2 C0,6.2 1.6,4.7 3.6,4.9 C4,2.1 6.2,0 9,0 C11.5,0 13.5,1.5 14.2,3.6 C14.8,3.3 15.4,3.2 16,3.2 C18.3,3.2 20,5 20,7.5 C20,10.1 18.2,12 15.8,12 Z" fill="#d8cfd2" stroke="#737987" stroke-width="0.9" vector-effect="non-scaling-stroke"/><circle cx="472.80" cy="327.10" r="0.8" fill="#2a3a6a"/><circle cx="476.60" cy="327.10" r="0.8" fill="#2a3a6a"/>
<g stroke="#dcc35a" stroke-width="2.3" stroke-linecap="round"><line x1="399.59" y1="332.07" x2="397.66" y2="330.82"/><line x1="406.19" y1="328.71" x2="406.31" y2="326.41"/><line x1="412.01" y1="332.07" x2="413.94" y2="330.82"/></g><circle cx="405.80" cy="336.10" r="5.3" fill="#e9b726"/><path transform="translate(409.50,335.70) scale(0.750,0.900)" d="M4.5,12 C1.6,12 0,10.2 0,8.2 C0,6.2 1.6,4.7 3.6,4.9 C4,2.1 6.2,0 9,0 C11.5,0 13.5,1.5 14.2,3.6 C14.8,3.3 15.4,3.2 16,3.2 C18.3,3.2 20,5 20,7.5 C20,10.1 18.2,12 15.8,12 Z" fill="#fff" stroke="#9aa9c2" stroke-width="0.9" vector-effect="non-scaling-stroke"/><path transform="translate(389.70,338.30) scale(1.190,1.325)" d="M4.5,12 C1.6,12 0,10.2 0,8.2 C0,6.2 1.6,4.7 3.6,4.9 C4,2.1 6.2,0 9,0 C11.5,0 13.5,1.5 14.2,3.6 C14.8,3.3 15.4,3.2 16,3.2 C18.3,3.2 20,5 20,7.5 C20,10.1 18.2,12 15.8,12 Z" fill="#fff" stroke="#9aa9c2" stroke-width="0.9" vector-effect="non-scaling-stroke"/>
<g stroke="#dcc35a" stroke-width="2.2" stroke-linecap="round"><line x1="435.00" y1="355.00" x2="435.00" y2="352.80"/><line x1="441.01" y1="357.49" x2="442.57" y2="355.93"/><line x1="443.50" y1="363.50" x2="445.70" y2="363.50"/><line x1="441.01" y1="369.51" x2="442.57" y2="371.07"/><line x1="435.00" y1="372.00" x2="435.00" y2="374.20"/><line x1="428.99" y1="369.51" x2="427.43" y2="371.07"/><line x1="426.50" y1="363.50" x2="424.30" y2="363.50"/><line x1="428.99" y1="357.49" x2="427.43" y2="355.93"/></g><circle cx="435.00" cy="363.50" r="6.2" fill="#e9b726"/><path transform="translate(440.90,356.80) scale(0.770,0.875)" d="M4.5,12 C1.6,12 0,10.2 0,8.2 C0,6.2 1.6,4.7 3.6,4.9 C4,2.1 6.2,0 9,0 C11.5,0 13.5,1.5 14.2,3.6 C14.8,3.3 15.4,3.2 16,3.2 C18.3,3.2 20,5 20,7.5 C20,10.1 18.2,12 15.8,12 Z" fill="#fff" stroke="#9aa9c2" stroke-width="0.9" vector-effect="non-scaling-stroke"/><path transform="translate(417.50,366.00) scale(0.940,0.942)" d="M4.5,12 C1.6,12 0,10.2 0,8.2 C0,6.2 1.6,4.7 3.6,4.9 C4,2.1 6.2,0 9,0 C11.5,0 13.5,1.5 14.2,3.6 C14.8,3.3 15.4,3.2 16,3.2 C18.3,3.2 20,5 20,7.5 C20,10.1 18.2,12 15.8,12 Z" fill="#fff" stroke="#9aa9c2" stroke-width="0.9" vector-effect="non-scaling-stroke"/>
<g stroke="#dcc35a" stroke-width="2.2" stroke-linecap="round"><line x1="496.40" y1="378.10" x2="496.40" y2="375.90"/><line x1="502.41" y1="380.59" x2="503.97" y2="379.03"/><line x1="504.90" y1="386.60" x2="507.10" y2="386.60"/><line x1="502.41" y1="392.61" x2="503.97" y2="394.17"/><line x1="496.40" y1="395.10" x2="496.40" y2="397.30"/><line x1="490.39" y1="392.61" x2="488.83" y2="394.17"/><line x1="487.90" y1="386.60" x2="485.70" y2="386.60"/><line x1="490.39" y1="380.59" x2="488.83" y2="379.03"/></g><circle cx="496.40" cy="386.60" r="6.2" fill="#e9b726"/><path transform="translate(502.30,379.90) scale(0.770,0.875)" d="M4.5,12 C1.6,12 0,10.2 0,8.2 C0,6.2 1.6,4.7 3.6,4.9 C4,2.1 6.2,0 9,0 C11.5,0 13.5,1.5 14.2,3.6 C14.8,3.3 15.4,3.2 16,3.2 C18.3,3.2 20,5 20,7.5 C20,10.1 18.2,12 15.8,12 Z" fill="#fff" stroke="#9aa9c2" stroke-width="0.9" vector-effect="non-scaling-stroke"/><path transform="translate(478.90,389.10) scale(0.940,0.942)" d="M4.5,12 C1.6,12 0,10.2 0,8.2 C0,6.2 1.6,4.7 3.6,4.9 C4,2.1 6.2,0 9,0 C11.5,0 13.5,1.5 14.2,3.6 C14.8,3.3 15.4,3.2 16,3.2 C18.3,3.2 20,5 20,7.5 C20,10.1 18.2,12 15.8,12 Z" fill="#fff" stroke="#9aa9c2" stroke-width="0.9" vector-effect="non-scaling-stroke"/>
<g transform="translate(381.2,390.8) scale(1.0)"><path d="M0,0 C-1.2,-3 -3.6,-4.6 -3.6,-7 A3.6,3.6 0 1 1 3.6,-7 C3.6,-4.6 1.2,-3 0,0Z" fill="#b3245c"/><circle cx="0" cy="-7.1" r="2.5" fill="#ffffff"/></g>
<g stroke="#f1cb45" stroke-width="2.2" stroke-linecap="round"><line x1="365.00" y1="397.10" x2="365.00" y2="394.90"/><line x1="371.01" y1="399.59" x2="372.57" y2="398.03"/><line x1="373.50" y1="405.60" x2="375.70" y2="405.60"/><line x1="371.01" y1="411.61" x2="372.57" y2="413.17"/><line x1="365.00" y1="414.10" x2="365.00" y2="416.30"/><line x1="358.99" y1="411.61" x2="357.43" y2="413.17"/><line x1="356.50" y1="405.60" x2="354.30" y2="405.60"/><line x1="358.99" y1="399.59" x2="357.43" y2="398.03"/></g><circle cx="365.00" cy="405.60" r="6.2" fill="#e9b726"/><path transform="translate(370.90,398.90) scale(0.770,0.875)" d="M4.5,12 C1.6,12 0,10.2 0,8.2 C0,6.2 1.6,4.7 3.6,4.9 C4,2.1 6.2,0 9,0 C11.5,0 13.5,1.5 14.2,3.6 C14.8,3.3 15.4,3.2 16,3.2 C18.3,3.2 20,5 20,7.5 C20,10.1 18.2,12 15.8,12 Z" fill="#fff" stroke="#7d8fa6" stroke-width="0.9" vector-effect="non-scaling-stroke"/><path transform="translate(347.50,408.10) scale(0.940,0.942)" d="M4.5,12 C1.6,12 0,10.2 0,8.2 C0,6.2 1.6,4.7 3.6,4.9 C4,2.1 6.2,0 9,0 C11.5,0 13.5,1.5 14.2,3.6 C14.8,3.3 15.4,3.2 16,3.2 C18.3,3.2 20,5 20,7.5 C20,10.1 18.2,12 15.8,12 Z" fill="#fff" stroke="#7d8fa6" stroke-width="0.9" vector-effect="non-scaling-stroke"/>
<g transform="translate(450.8,390.2) scale(1.0)"><path d="M0,0 C-1.2,-3 -3.6,-4.6 -3.6,-7 A3.6,3.6 0 1 1 3.6,-7 C3.6,-4.6 1.2,-3 0,0Z" fill="#b3245c"/><circle cx="0" cy="-7.1" r="2.5" fill="#ffffff"/></g>
<g stroke="#dcc35a" stroke-width="2.3" stroke-linecap="round"><line x1="469.79" y1="430.47" x2="467.86" y2="429.22"/><line x1="476.39" y1="427.11" x2="476.51" y2="424.81"/><line x1="482.21" y1="430.47" x2="484.14" y2="429.22"/></g><circle cx="476.00" cy="434.50" r="5.3" fill="#e9b726"/><path transform="translate(479.70,434.10) scale(0.750,0.900)" d="M4.5,12 C1.6,12 0,10.2 0,8.2 C0,6.2 1.6,4.7 3.6,4.9 C4,2.1 6.2,0 9,0 C11.5,0 13.5,1.5 14.2,3.6 C14.8,3.3 15.4,3.2 16,3.2 C18.3,3.2 20,5 20,7.5 C20,10.1 18.2,12 15.8,12 Z" fill="#fff" stroke="#9aa9c2" stroke-width="0.9" vector-effect="non-scaling-stroke"/><path transform="translate(459.90,436.70) scale(1.190,1.325)" d="M4.5,12 C1.6,12 0,10.2 0,8.2 C0,6.2 1.6,4.7 3.6,4.9 C4,2.1 6.2,0 9,0 C11.5,0 13.5,1.5 14.2,3.6 C14.8,3.3 15.4,3.2 16,3.2 C18.3,3.2 20,5 20,7.5 C20,10.1 18.2,12 15.8,12 Z" fill="#fff" stroke="#9aa9c2" stroke-width="0.9" vector-effect="non-scaling-stroke"/>
<g transform="translate(443.7,499.5) scale(1.0)"><path d="M0,0 C-1.2,-3 -3.6,-4.6 -3.6,-7 A3.6,3.6 0 1 1 3.6,-7 C3.6,-4.6 1.2,-3 0,0Z" fill="#b3245c"/><circle cx="0" cy="-7.1" r="2.5" fill="#ffffff"/></g>
<g stroke="#dcc35a" stroke-width="2.3" stroke-linecap="round"><line x1="454.79" y1="482.57" x2="452.86" y2="481.32"/><line x1="461.39" y1="479.21" x2="461.51" y2="476.91"/><line x1="467.21" y1="482.57" x2="469.14" y2="481.32"/></g><circle cx="461.00" cy="486.60" r="5.3" fill="#e9b726"/><path transform="translate(464.70,486.20) scale(0.750,0.900)" d="M4.5,12 C1.6,12 0,10.2 0,8.2 C0,6.2 1.6,4.7 3.6,4.9 C4,2.1 6.2,0 9,0 C11.5,0 13.5,1.5 14.2,3.6 C14.8,3.3 15.4,3.2 16,3.2 C18.3,3.2 20,5 20,7.5 C20,10.1 18.2,12 15.8,12 Z" fill="#fff" stroke="#9aa9c2" stroke-width="0.9" vector-effect="non-scaling-stroke"/><path transform="translate(444.90,488.80) scale(1.190,1.325)" d="M4.5,12 C1.6,12 0,10.2 0,8.2 C0,6.2 1.6,4.7 3.6,4.9 C4,2.1 6.2,0 9,0 C11.5,0 13.5,1.5 14.2,3.6 C14.8,3.3 15.4,3.2 16,3.2 C18.3,3.2 20,5 20,7.5 C20,10.1 18.2,12 15.8,12 Z" fill="#fff" stroke="#9aa9c2" stroke-width="0.9" vector-effect="non-scaling-stroke"/>
<g transform="translate(335.20,305.20) scale(0.94)" fill="none" stroke-linecap="round"><path d="M0.7,7.3 H13 M0.7,10.6 H18.5" stroke="#8fd0ef" stroke-width="1.4"/><path d="M0.7,6 H11.5 A3,3 0 1 0 8.5,3.2" stroke="#1d5c8c" stroke-width="1.55"/><path d="M0.7,9.3 H19 A2.4,2.4 0 1 0 16.6,6.9" stroke="#1d5c8c" stroke-width="1.55"/><path d="M0.7,13 H16.4 A2.6,2.6 0 1 1 13.8,15.6" stroke="#1d5c8c" stroke-width="1.55"/></g>
<g transform="translate(335.40,381.60) scale(0.98)" fill="none" stroke-linecap="round"><path d="M0.7,7.3 H13 M0.7,10.6 H18.5" stroke="#8fd0ef" stroke-width="1.4"/><path d="M0.7,6 H11.5 A3,3 0 1 0 8.5,3.2" stroke="#1d5c8c" stroke-width="1.55"/><path d="M0.7,9.3 H19 A2.4,2.4 0 1 0 16.6,6.9" stroke="#1d5c8c" stroke-width="1.55"/><path d="M0.7,13 H16.4 A2.6,2.6 0 1 1 13.8,15.6" stroke="#1d5c8c" stroke-width="1.55"/></g>
<g transform="translate(393.60,467.00) scale(0.97)" fill="none" stroke-linecap="round"><path d="M0.7,7.3 H13 M0.7,10.6 H18.5" stroke="#8fd0ef" stroke-width="1.4"/><path d="M0.7,6 H11.5 A3,3 0 1 0 8.5,3.2" stroke="#1d5c8c" stroke-width="1.55"/><path d="M0.7,9.3 H19 A2.4,2.4 0 1 0 16.6,6.9" stroke="#1d5c8c" stroke-width="1.55"/><path d="M0.7,13 H16.4 A2.6,2.6 0 1 1 13.8,15.6" stroke="#1d5c8c" stroke-width="1.55"/></g>
<text x="490.8" y="568.7" font-size="16.48" font-weight="bold" fill="#222e5e" stroke="#222e5e" stroke-width="0.74" stroke-linejoin="round" textLength="77.8" lengthAdjust="spacingAndGlyphs" >Gobierno</text>
<text x="490.8" y="583.0" font-size="10.06" font-weight="normal" fill="#222e5e" textLength="12.5" lengthAdjust="spacingAndGlyphs" >del</text>
<text x="507.5" y="583.0" font-size="15.08" font-weight="bold" fill="#222e5e" stroke="#222e5e" stroke-width="0.68" stroke-linejoin="round" textLength="60.9" lengthAdjust="spacingAndGlyphs" >Ecuador</text>
<g fill="none" stroke-width="1.8" stroke-linecap="round" stroke-linejoin="round"><path d="M489.2,548.4 L493.4,551.4 M485.9,553.4 L494.2,554.6" stroke="#f2c230"/><path d="M494.4,547 L497.8,553.6 L500.2,547" stroke="#1c3b8c"/><path d="M505.8,548.4 L501.6,551.6 M500,554.4 L508.2,554.2" stroke="#e2402c"/></g>
</svg>
</body></html>
